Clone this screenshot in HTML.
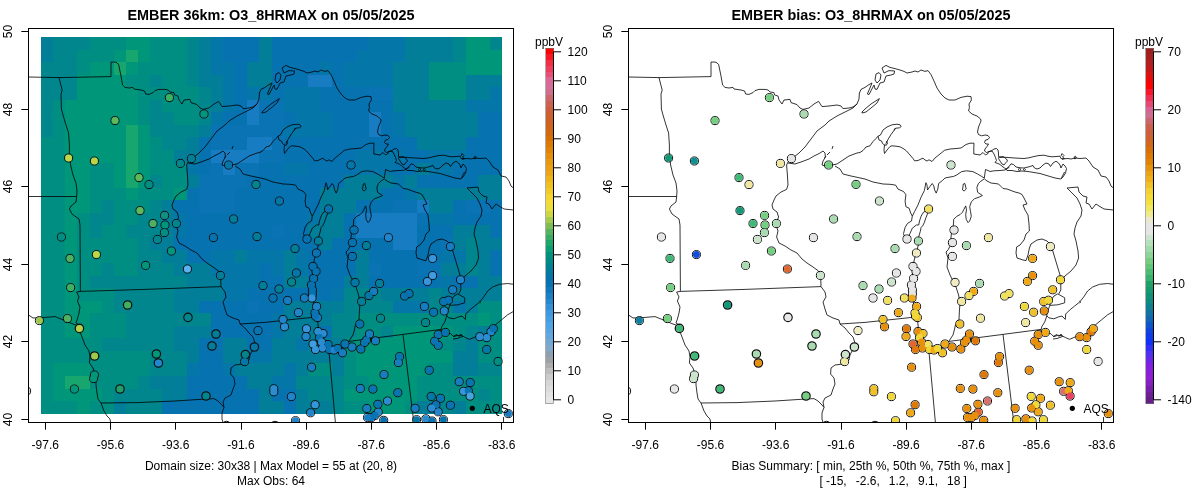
<!DOCTYPE html><html><head><meta charset="utf-8"><title>EMBER O3</title>
<style>html,body{margin:0;padding:0;background:#fff}svg{display:block}text{font-family:"Liberation Sans",sans-serif;fill:#000}</style></head><body>
<svg width="1200" height="502" viewBox="0 0 1200 502">
<rect width="1200" height="502" fill="#fff"/>
<g style="will-change:opacity">
<defs>
<clipPath id="cl"><rect x="28.5" y="28.5" width="485.0" height="394.0"/></clipPath>
<clipPath id="cr"><rect x="628.5" y="28.5" width="485.0" height="394.0"/></clipPath>
</defs>
<g shape-rendering="crispEdges">
<rect x="41.00" y="37.00" width="12.43" height="12.86" fill="#027e98"/>
<rect x="53.13" y="37.00" width="36.69" height="12.86" fill="#00868c"/>
<rect x="89.53" y="37.00" width="36.69" height="12.86" fill="#008e82"/>
<rect x="125.92" y="37.00" width="24.56" height="12.86" fill="#00967a"/>
<rect x="150.18" y="37.00" width="36.69" height="12.86" fill="#008e82"/>
<rect x="186.58" y="37.00" width="12.43" height="12.86" fill="#00868c"/>
<rect x="198.71" y="37.00" width="12.43" height="12.86" fill="#027e98"/>
<rect x="210.84" y="37.00" width="12.43" height="12.86" fill="#0476a8"/>
<rect x="222.97" y="37.00" width="36.69" height="12.86" fill="#0672b0"/>
<rect x="259.37" y="37.00" width="12.43" height="12.86" fill="#027e98"/>
<rect x="271.50" y="37.00" width="97.35" height="12.86" fill="#0672b0"/>
<rect x="368.55" y="37.00" width="36.69" height="12.86" fill="#0476a8"/>
<rect x="404.95" y="37.00" width="48.83" height="12.86" fill="#027e98"/>
<rect x="453.47" y="37.00" width="12.43" height="12.86" fill="#00868c"/>
<rect x="465.61" y="37.00" width="24.56" height="12.86" fill="#00967a"/>
<rect x="489.87" y="37.00" width="12.43" height="12.86" fill="#00868c"/>
<rect x="41.00" y="49.56" width="12.43" height="12.86" fill="#027e98"/>
<rect x="53.13" y="49.56" width="24.56" height="12.86" fill="#00868c"/>
<rect x="77.39" y="49.56" width="36.69" height="12.86" fill="#008e82"/>
<rect x="113.79" y="49.56" width="12.43" height="12.86" fill="#00967a"/>
<rect x="125.92" y="49.56" width="12.43" height="12.86" fill="#16a66e"/>
<rect x="138.05" y="49.56" width="12.43" height="12.86" fill="#00967a"/>
<rect x="150.18" y="49.56" width="36.69" height="12.86" fill="#008e82"/>
<rect x="186.58" y="49.56" width="12.43" height="12.86" fill="#00868c"/>
<rect x="198.71" y="49.56" width="12.43" height="12.86" fill="#027e98"/>
<rect x="210.84" y="49.56" width="12.43" height="12.86" fill="#0476a8"/>
<rect x="222.97" y="49.56" width="36.69" height="12.86" fill="#0672b0"/>
<rect x="259.37" y="49.56" width="12.43" height="12.86" fill="#027e98"/>
<rect x="271.50" y="49.56" width="85.22" height="12.86" fill="#0672b0"/>
<rect x="356.42" y="49.56" width="48.83" height="12.86" fill="#0476a8"/>
<rect x="404.95" y="49.56" width="48.83" height="12.86" fill="#027e98"/>
<rect x="453.47" y="49.56" width="12.43" height="12.86" fill="#00868c"/>
<rect x="465.61" y="49.56" width="36.69" height="12.86" fill="#00967a"/>
<rect x="41.00" y="62.11" width="36.69" height="12.86" fill="#00868c"/>
<rect x="77.39" y="62.11" width="12.43" height="12.86" fill="#008e82"/>
<rect x="89.53" y="62.11" width="24.56" height="12.86" fill="#00967a"/>
<rect x="113.79" y="62.11" width="12.43" height="12.86" fill="#16a66e"/>
<rect x="125.92" y="62.11" width="12.43" height="12.86" fill="#00967a"/>
<rect x="138.05" y="62.11" width="48.83" height="12.86" fill="#008e82"/>
<rect x="186.58" y="62.11" width="12.43" height="12.86" fill="#00868c"/>
<rect x="198.71" y="62.11" width="12.43" height="12.86" fill="#027e98"/>
<rect x="210.84" y="62.11" width="24.56" height="12.86" fill="#0476a8"/>
<rect x="235.11" y="62.11" width="12.43" height="12.86" fill="#0672b0"/>
<rect x="247.24" y="62.11" width="24.56" height="12.86" fill="#027e98"/>
<rect x="271.50" y="62.11" width="48.83" height="12.86" fill="#0672b0"/>
<rect x="320.03" y="62.11" width="12.43" height="12.86" fill="#0476a8"/>
<rect x="332.16" y="62.11" width="12.43" height="12.86" fill="#0672b0"/>
<rect x="344.29" y="62.11" width="48.83" height="12.86" fill="#0476a8"/>
<rect x="392.82" y="62.11" width="36.69" height="12.86" fill="#027e98"/>
<rect x="429.21" y="62.11" width="36.69" height="12.86" fill="#008e82"/>
<rect x="465.61" y="62.11" width="36.69" height="12.86" fill="#00967a"/>
<rect x="41.00" y="74.67" width="36.69" height="12.86" fill="#00868c"/>
<rect x="77.39" y="74.67" width="48.83" height="12.86" fill="#00967a"/>
<rect x="125.92" y="74.67" width="24.56" height="12.86" fill="#008e82"/>
<rect x="150.18" y="74.67" width="12.43" height="12.86" fill="#00868c"/>
<rect x="162.32" y="74.67" width="24.56" height="12.86" fill="#008e82"/>
<rect x="186.58" y="74.67" width="12.43" height="12.86" fill="#00868c"/>
<rect x="198.71" y="74.67" width="24.56" height="12.86" fill="#027e98"/>
<rect x="222.97" y="74.67" width="12.43" height="12.86" fill="#0476a8"/>
<rect x="235.11" y="74.67" width="12.43" height="12.86" fill="#0672b0"/>
<rect x="247.24" y="74.67" width="24.56" height="12.86" fill="#027e98"/>
<rect x="271.50" y="74.67" width="36.69" height="12.86" fill="#0672b0"/>
<rect x="307.89" y="74.67" width="24.56" height="12.86" fill="#187cc2"/>
<rect x="332.16" y="74.67" width="12.43" height="12.86" fill="#0672b0"/>
<rect x="344.29" y="74.67" width="48.83" height="12.86" fill="#0476a8"/>
<rect x="392.82" y="74.67" width="36.69" height="12.86" fill="#027e98"/>
<rect x="429.21" y="74.67" width="36.69" height="12.86" fill="#008e82"/>
<rect x="465.61" y="74.67" width="36.69" height="12.86" fill="#027e98"/>
<rect x="41.00" y="87.23" width="36.69" height="12.86" fill="#00868c"/>
<rect x="77.39" y="87.23" width="60.96" height="12.86" fill="#00967a"/>
<rect x="138.05" y="87.23" width="60.96" height="12.86" fill="#008e82"/>
<rect x="198.71" y="87.23" width="12.43" height="12.86" fill="#00868c"/>
<rect x="210.84" y="87.23" width="12.43" height="12.86" fill="#027e98"/>
<rect x="222.97" y="87.23" width="12.43" height="12.86" fill="#0476a8"/>
<rect x="235.11" y="87.23" width="12.43" height="12.86" fill="#0672b0"/>
<rect x="247.24" y="87.23" width="24.56" height="12.86" fill="#0476a8"/>
<rect x="271.50" y="87.23" width="12.43" height="12.86" fill="#0672b0"/>
<rect x="283.63" y="87.23" width="36.69" height="12.86" fill="#0476a8"/>
<rect x="320.03" y="87.23" width="48.83" height="12.86" fill="#0672b0"/>
<rect x="368.55" y="87.23" width="24.56" height="12.86" fill="#0a73b4"/>
<rect x="392.82" y="87.23" width="36.69" height="12.86" fill="#027e98"/>
<rect x="429.21" y="87.23" width="36.69" height="12.86" fill="#008e82"/>
<rect x="465.61" y="87.23" width="24.56" height="12.86" fill="#027e98"/>
<rect x="489.87" y="87.23" width="12.43" height="12.86" fill="#0476a8"/>
<rect x="41.00" y="99.78" width="12.43" height="12.86" fill="#00868c"/>
<rect x="53.13" y="99.78" width="12.43" height="12.86" fill="#008e82"/>
<rect x="65.26" y="99.78" width="73.09" height="12.86" fill="#00967a"/>
<rect x="138.05" y="99.78" width="12.43" height="12.86" fill="#008e82"/>
<rect x="150.18" y="99.78" width="12.43" height="12.86" fill="#00868c"/>
<rect x="162.32" y="99.78" width="36.69" height="12.86" fill="#008e82"/>
<rect x="198.71" y="99.78" width="12.43" height="12.86" fill="#00868c"/>
<rect x="210.84" y="99.78" width="12.43" height="12.86" fill="#027e98"/>
<rect x="222.97" y="99.78" width="12.43" height="12.86" fill="#0476a8"/>
<rect x="235.11" y="99.78" width="12.43" height="12.86" fill="#0672b0"/>
<rect x="247.24" y="99.78" width="12.43" height="12.86" fill="#187cc2"/>
<rect x="259.37" y="99.78" width="24.56" height="12.86" fill="#0a73b4"/>
<rect x="283.63" y="99.78" width="36.69" height="12.86" fill="#0476a8"/>
<rect x="320.03" y="99.78" width="73.09" height="12.86" fill="#0672b0"/>
<rect x="392.82" y="99.78" width="73.09" height="12.86" fill="#027e98"/>
<rect x="465.61" y="99.78" width="36.69" height="12.86" fill="#0476a8"/>
<rect x="41.00" y="112.34" width="12.43" height="12.86" fill="#00868c"/>
<rect x="53.13" y="112.34" width="12.43" height="12.86" fill="#008e82"/>
<rect x="65.26" y="112.34" width="73.09" height="12.86" fill="#00967a"/>
<rect x="138.05" y="112.34" width="12.43" height="12.86" fill="#008e82"/>
<rect x="150.18" y="112.34" width="24.56" height="12.86" fill="#00868c"/>
<rect x="174.45" y="112.34" width="24.56" height="12.86" fill="#008e82"/>
<rect x="198.71" y="112.34" width="12.43" height="12.86" fill="#00868c"/>
<rect x="210.84" y="112.34" width="12.43" height="12.86" fill="#0476a8"/>
<rect x="222.97" y="112.34" width="24.56" height="12.86" fill="#0672b0"/>
<rect x="247.24" y="112.34" width="12.43" height="12.86" fill="#187cc2"/>
<rect x="259.37" y="112.34" width="24.56" height="12.86" fill="#0a73b4"/>
<rect x="283.63" y="112.34" width="12.43" height="12.86" fill="#0672b0"/>
<rect x="295.76" y="112.34" width="36.69" height="12.86" fill="#0476a8"/>
<rect x="332.16" y="112.34" width="36.69" height="12.86" fill="#0672b0"/>
<rect x="368.55" y="112.34" width="12.43" height="12.86" fill="#187cc2"/>
<rect x="380.68" y="112.34" width="12.43" height="12.86" fill="#0672b0"/>
<rect x="392.82" y="112.34" width="12.43" height="12.86" fill="#0476a8"/>
<rect x="404.95" y="112.34" width="73.09" height="12.86" fill="#027e98"/>
<rect x="477.74" y="112.34" width="24.56" height="12.86" fill="#0672b0"/>
<rect x="41.00" y="124.90" width="12.43" height="12.86" fill="#00868c"/>
<rect x="53.13" y="124.90" width="12.43" height="12.86" fill="#008e82"/>
<rect x="65.26" y="124.90" width="60.96" height="12.86" fill="#00967a"/>
<rect x="125.92" y="124.90" width="12.43" height="12.86" fill="#16a66e"/>
<rect x="138.05" y="124.90" width="12.43" height="12.86" fill="#00967a"/>
<rect x="150.18" y="124.90" width="48.83" height="12.86" fill="#00868c"/>
<rect x="198.71" y="124.90" width="12.43" height="12.86" fill="#027e98"/>
<rect x="210.84" y="124.90" width="73.09" height="12.86" fill="#0a73b4"/>
<rect x="283.63" y="124.90" width="48.83" height="12.86" fill="#0476a8"/>
<rect x="332.16" y="124.90" width="36.69" height="12.86" fill="#0672b0"/>
<rect x="368.55" y="124.90" width="12.43" height="12.86" fill="#187cc2"/>
<rect x="380.68" y="124.90" width="12.43" height="12.86" fill="#0672b0"/>
<rect x="392.82" y="124.90" width="12.43" height="12.86" fill="#0476a8"/>
<rect x="404.95" y="124.90" width="73.09" height="12.86" fill="#027e98"/>
<rect x="477.74" y="124.90" width="24.56" height="12.86" fill="#0672b0"/>
<rect x="41.00" y="137.45" width="24.56" height="12.86" fill="#008e82"/>
<rect x="65.26" y="137.45" width="60.96" height="12.86" fill="#00967a"/>
<rect x="125.92" y="137.45" width="12.43" height="12.86" fill="#16a66e"/>
<rect x="138.05" y="137.45" width="12.43" height="12.86" fill="#00967a"/>
<rect x="150.18" y="137.45" width="12.43" height="12.86" fill="#008e82"/>
<rect x="162.32" y="137.45" width="24.56" height="12.86" fill="#00868c"/>
<rect x="186.58" y="137.45" width="12.43" height="12.86" fill="#027e98"/>
<rect x="198.71" y="137.45" width="12.43" height="12.86" fill="#0672b0"/>
<rect x="210.84" y="137.45" width="36.69" height="12.86" fill="#0a73b4"/>
<rect x="247.24" y="137.45" width="24.56" height="12.86" fill="#187cc2"/>
<rect x="271.50" y="137.45" width="12.43" height="12.86" fill="#0a73b4"/>
<rect x="283.63" y="137.45" width="133.75" height="12.86" fill="#0672b0"/>
<rect x="417.08" y="137.45" width="48.83" height="12.86" fill="#027e98"/>
<rect x="465.61" y="137.45" width="36.69" height="12.86" fill="#0672b0"/>
<rect x="41.00" y="150.01" width="24.56" height="12.86" fill="#008e82"/>
<rect x="65.26" y="150.01" width="60.96" height="12.86" fill="#00967a"/>
<rect x="125.92" y="150.01" width="12.43" height="12.86" fill="#16a66e"/>
<rect x="138.05" y="150.01" width="12.43" height="12.86" fill="#00967a"/>
<rect x="150.18" y="150.01" width="24.56" height="12.86" fill="#008e82"/>
<rect x="174.45" y="150.01" width="24.56" height="12.86" fill="#027e98"/>
<rect x="198.71" y="150.01" width="12.43" height="12.86" fill="#0672b0"/>
<rect x="210.84" y="150.01" width="48.83" height="12.86" fill="#187cc2"/>
<rect x="259.37" y="150.01" width="24.56" height="12.86" fill="#0a73b4"/>
<rect x="283.63" y="150.01" width="73.09" height="12.86" fill="#0672b0"/>
<rect x="356.42" y="150.01" width="48.83" height="12.86" fill="#0476a8"/>
<rect x="404.95" y="150.01" width="24.56" height="12.86" fill="#0672b0"/>
<rect x="429.21" y="150.01" width="36.69" height="12.86" fill="#0476a8"/>
<rect x="465.61" y="150.01" width="36.69" height="12.86" fill="#0672b0"/>
<rect x="41.00" y="162.57" width="24.56" height="12.86" fill="#008e82"/>
<rect x="65.26" y="162.57" width="24.56" height="12.86" fill="#00967a"/>
<rect x="89.53" y="162.57" width="24.56" height="12.86" fill="#008e82"/>
<rect x="113.79" y="162.57" width="12.43" height="12.86" fill="#00967a"/>
<rect x="125.92" y="162.57" width="12.43" height="12.86" fill="#16a66e"/>
<rect x="138.05" y="162.57" width="12.43" height="12.86" fill="#00967a"/>
<rect x="150.18" y="162.57" width="36.69" height="12.86" fill="#008e82"/>
<rect x="186.58" y="162.57" width="12.43" height="12.86" fill="#0476a8"/>
<rect x="198.71" y="162.57" width="12.43" height="12.86" fill="#0672b0"/>
<rect x="210.84" y="162.57" width="12.43" height="12.86" fill="#0a73b4"/>
<rect x="222.97" y="162.57" width="12.43" height="12.86" fill="#187cc2"/>
<rect x="235.11" y="162.57" width="24.56" height="12.86" fill="#0a73b4"/>
<rect x="259.37" y="162.57" width="24.56" height="12.86" fill="#0672b0"/>
<rect x="283.63" y="162.57" width="24.56" height="12.86" fill="#0476a8"/>
<rect x="307.89" y="162.57" width="48.83" height="12.86" fill="#0672b0"/>
<rect x="356.42" y="162.57" width="36.69" height="12.86" fill="#0476a8"/>
<rect x="392.82" y="162.57" width="24.56" height="12.86" fill="#0672b0"/>
<rect x="417.08" y="162.57" width="12.43" height="12.86" fill="#027e98"/>
<rect x="429.21" y="162.57" width="24.56" height="12.86" fill="#0476a8"/>
<rect x="453.47" y="162.57" width="48.83" height="12.86" fill="#0672b0"/>
<rect x="41.00" y="175.12" width="24.56" height="12.86" fill="#008e82"/>
<rect x="65.26" y="175.12" width="24.56" height="12.86" fill="#00967a"/>
<rect x="89.53" y="175.12" width="24.56" height="12.86" fill="#008e82"/>
<rect x="113.79" y="175.12" width="12.43" height="12.86" fill="#00967a"/>
<rect x="125.92" y="175.12" width="12.43" height="12.86" fill="#16a66e"/>
<rect x="138.05" y="175.12" width="12.43" height="12.86" fill="#00967a"/>
<rect x="150.18" y="175.12" width="12.43" height="12.86" fill="#00868c"/>
<rect x="162.32" y="175.12" width="24.56" height="12.86" fill="#008e82"/>
<rect x="186.58" y="175.12" width="12.43" height="12.86" fill="#027e98"/>
<rect x="198.71" y="175.12" width="48.83" height="12.86" fill="#0a73b4"/>
<rect x="247.24" y="175.12" width="97.35" height="12.86" fill="#0672b0"/>
<rect x="344.29" y="175.12" width="48.83" height="12.86" fill="#027e98"/>
<rect x="392.82" y="175.12" width="12.43" height="12.86" fill="#0476a8"/>
<rect x="404.95" y="175.12" width="12.43" height="12.86" fill="#027e98"/>
<rect x="417.08" y="175.12" width="60.96" height="12.86" fill="#0672b0"/>
<rect x="477.74" y="175.12" width="24.56" height="12.86" fill="#027e98"/>
<rect x="41.00" y="187.68" width="24.56" height="12.86" fill="#008e82"/>
<rect x="65.26" y="187.68" width="24.56" height="12.86" fill="#00967a"/>
<rect x="89.53" y="187.68" width="36.69" height="12.86" fill="#008e82"/>
<rect x="125.92" y="187.68" width="12.43" height="12.86" fill="#00967a"/>
<rect x="138.05" y="187.68" width="36.69" height="12.86" fill="#008e82"/>
<rect x="174.45" y="187.68" width="12.43" height="12.86" fill="#00967a"/>
<rect x="186.58" y="187.68" width="12.43" height="12.86" fill="#0672b0"/>
<rect x="198.71" y="187.68" width="36.69" height="12.86" fill="#0a73b4"/>
<rect x="235.11" y="187.68" width="85.22" height="12.86" fill="#0672b0"/>
<rect x="320.03" y="187.68" width="60.96" height="12.86" fill="#027e98"/>
<rect x="380.68" y="187.68" width="24.56" height="12.86" fill="#0672b0"/>
<rect x="404.95" y="187.68" width="12.43" height="12.86" fill="#0476a8"/>
<rect x="417.08" y="187.68" width="85.22" height="12.86" fill="#027e98"/>
<rect x="41.00" y="200.24" width="24.56" height="12.86" fill="#008e82"/>
<rect x="65.26" y="200.24" width="24.56" height="12.86" fill="#00967a"/>
<rect x="89.53" y="200.24" width="12.43" height="12.86" fill="#008e82"/>
<rect x="101.66" y="200.24" width="12.43" height="12.86" fill="#00868c"/>
<rect x="113.79" y="200.24" width="36.69" height="12.86" fill="#008e82"/>
<rect x="150.18" y="200.24" width="12.43" height="12.86" fill="#00868c"/>
<rect x="162.32" y="200.24" width="12.43" height="12.86" fill="#027e98"/>
<rect x="174.45" y="200.24" width="24.56" height="12.86" fill="#0672b0"/>
<rect x="198.71" y="200.24" width="36.69" height="12.86" fill="#0a73b4"/>
<rect x="235.11" y="200.24" width="85.22" height="12.86" fill="#0672b0"/>
<rect x="320.03" y="200.24" width="36.69" height="12.86" fill="#027e98"/>
<rect x="356.42" y="200.24" width="36.69" height="12.86" fill="#0672b0"/>
<rect x="392.82" y="200.24" width="24.56" height="12.86" fill="#0a73b4"/>
<rect x="417.08" y="200.24" width="12.43" height="12.86" fill="#187cc2"/>
<rect x="429.21" y="200.24" width="24.56" height="12.86" fill="#027e98"/>
<rect x="453.47" y="200.24" width="12.43" height="12.86" fill="#0672b0"/>
<rect x="465.61" y="200.24" width="24.56" height="12.86" fill="#0a73b4"/>
<rect x="489.87" y="200.24" width="12.43" height="12.86" fill="#0672b0"/>
<rect x="41.00" y="212.79" width="24.56" height="12.86" fill="#008e82"/>
<rect x="65.26" y="212.79" width="12.43" height="12.86" fill="#00967a"/>
<rect x="77.39" y="212.79" width="12.43" height="12.86" fill="#008e82"/>
<rect x="89.53" y="212.79" width="24.56" height="12.86" fill="#00868c"/>
<rect x="113.79" y="212.79" width="24.56" height="12.86" fill="#008e82"/>
<rect x="138.05" y="212.79" width="24.56" height="12.86" fill="#00868c"/>
<rect x="162.32" y="212.79" width="12.43" height="12.86" fill="#027e98"/>
<rect x="174.45" y="212.79" width="12.43" height="12.86" fill="#0476a8"/>
<rect x="186.58" y="212.79" width="121.62" height="12.86" fill="#0672b0"/>
<rect x="307.89" y="212.79" width="12.43" height="12.86" fill="#0476a8"/>
<rect x="320.03" y="212.79" width="24.56" height="12.86" fill="#027e98"/>
<rect x="344.29" y="212.79" width="12.43" height="12.86" fill="#0672b0"/>
<rect x="356.42" y="212.79" width="60.96" height="12.86" fill="#187cc2"/>
<rect x="417.08" y="212.79" width="12.43" height="12.86" fill="#0a73b4"/>
<rect x="429.21" y="212.79" width="24.56" height="12.86" fill="#0476a8"/>
<rect x="453.47" y="212.79" width="48.83" height="12.86" fill="#0672b0"/>
<rect x="41.00" y="225.35" width="24.56" height="12.86" fill="#008e82"/>
<rect x="65.26" y="225.35" width="12.43" height="12.86" fill="#00967a"/>
<rect x="77.39" y="225.35" width="12.43" height="12.86" fill="#008e82"/>
<rect x="89.53" y="225.35" width="12.43" height="12.86" fill="#00868c"/>
<rect x="101.66" y="225.35" width="24.56" height="12.86" fill="#008e82"/>
<rect x="125.92" y="225.35" width="36.69" height="12.86" fill="#00868c"/>
<rect x="162.32" y="225.35" width="12.43" height="12.86" fill="#027e98"/>
<rect x="174.45" y="225.35" width="12.43" height="12.86" fill="#0476a8"/>
<rect x="186.58" y="225.35" width="85.22" height="12.86" fill="#0672b0"/>
<rect x="271.50" y="225.35" width="12.43" height="12.86" fill="#0a73b4"/>
<rect x="283.63" y="225.35" width="24.56" height="12.86" fill="#0672b0"/>
<rect x="307.89" y="225.35" width="36.69" height="12.86" fill="#027e98"/>
<rect x="344.29" y="225.35" width="12.43" height="12.86" fill="#0672b0"/>
<rect x="356.42" y="225.35" width="60.96" height="12.86" fill="#187cc2"/>
<rect x="417.08" y="225.35" width="36.69" height="12.86" fill="#0672b0"/>
<rect x="453.47" y="225.35" width="36.69" height="12.86" fill="#027e98"/>
<rect x="489.87" y="225.35" width="12.43" height="12.86" fill="#0672b0"/>
<rect x="41.00" y="237.91" width="24.56" height="12.86" fill="#008e82"/>
<rect x="65.26" y="237.91" width="12.43" height="12.86" fill="#00967a"/>
<rect x="77.39" y="237.91" width="60.96" height="12.86" fill="#008e82"/>
<rect x="138.05" y="237.91" width="12.43" height="12.86" fill="#00868c"/>
<rect x="150.18" y="237.91" width="24.56" height="12.86" fill="#027e98"/>
<rect x="174.45" y="237.91" width="145.88" height="12.86" fill="#0672b0"/>
<rect x="320.03" y="237.91" width="12.43" height="12.86" fill="#027e98"/>
<rect x="332.16" y="237.91" width="60.96" height="12.86" fill="#0672b0"/>
<rect x="392.82" y="237.91" width="24.56" height="12.86" fill="#187cc2"/>
<rect x="417.08" y="237.91" width="24.56" height="12.86" fill="#0672b0"/>
<rect x="441.34" y="237.91" width="12.43" height="12.86" fill="#0a73b4"/>
<rect x="453.47" y="237.91" width="12.43" height="12.86" fill="#027e98"/>
<rect x="465.61" y="237.91" width="12.43" height="12.86" fill="#00868c"/>
<rect x="477.74" y="237.91" width="24.56" height="12.86" fill="#027e98"/>
<rect x="41.00" y="250.46" width="24.56" height="12.86" fill="#008e82"/>
<rect x="65.26" y="250.46" width="12.43" height="12.86" fill="#00967a"/>
<rect x="77.39" y="250.46" width="60.96" height="12.86" fill="#008e82"/>
<rect x="138.05" y="250.46" width="24.56" height="12.86" fill="#00868c"/>
<rect x="162.32" y="250.46" width="24.56" height="12.86" fill="#027e98"/>
<rect x="186.58" y="250.46" width="24.56" height="12.86" fill="#0672b0"/>
<rect x="210.84" y="250.46" width="24.56" height="12.86" fill="#0476a8"/>
<rect x="235.11" y="250.46" width="12.43" height="12.86" fill="#027e98"/>
<rect x="247.24" y="250.46" width="36.69" height="12.86" fill="#0476a8"/>
<rect x="283.63" y="250.46" width="12.43" height="12.86" fill="#027e98"/>
<rect x="295.76" y="250.46" width="12.43" height="12.86" fill="#0476a8"/>
<rect x="307.89" y="250.46" width="48.83" height="12.86" fill="#0672b0"/>
<rect x="356.42" y="250.46" width="12.43" height="12.86" fill="#027e98"/>
<rect x="368.55" y="250.46" width="73.09" height="12.86" fill="#0672b0"/>
<rect x="441.34" y="250.46" width="24.56" height="12.86" fill="#0476a8"/>
<rect x="465.61" y="250.46" width="12.43" height="12.86" fill="#00868c"/>
<rect x="477.74" y="250.46" width="12.43" height="12.86" fill="#027e98"/>
<rect x="489.87" y="250.46" width="12.43" height="12.86" fill="#0672b0"/>
<rect x="41.00" y="263.02" width="24.56" height="12.86" fill="#008e82"/>
<rect x="65.26" y="263.02" width="12.43" height="12.86" fill="#00967a"/>
<rect x="77.39" y="263.02" width="24.56" height="12.86" fill="#008e82"/>
<rect x="101.66" y="263.02" width="12.43" height="12.86" fill="#00868c"/>
<rect x="113.79" y="263.02" width="24.56" height="12.86" fill="#008e82"/>
<rect x="138.05" y="263.02" width="36.69" height="12.86" fill="#00868c"/>
<rect x="174.45" y="263.02" width="36.69" height="12.86" fill="#027e98"/>
<rect x="210.84" y="263.02" width="48.83" height="12.86" fill="#0476a8"/>
<rect x="259.37" y="263.02" width="12.43" height="12.86" fill="#0672b0"/>
<rect x="271.50" y="263.02" width="12.43" height="12.86" fill="#0476a8"/>
<rect x="283.63" y="263.02" width="12.43" height="12.86" fill="#027e98"/>
<rect x="295.76" y="263.02" width="12.43" height="12.86" fill="#0476a8"/>
<rect x="307.89" y="263.02" width="48.83" height="12.86" fill="#0672b0"/>
<rect x="356.42" y="263.02" width="12.43" height="12.86" fill="#027e98"/>
<rect x="368.55" y="263.02" width="12.43" height="12.86" fill="#0a73b4"/>
<rect x="380.68" y="263.02" width="36.69" height="12.86" fill="#0672b0"/>
<rect x="417.08" y="263.02" width="24.56" height="12.86" fill="#0a73b4"/>
<rect x="441.34" y="263.02" width="24.56" height="12.86" fill="#027e98"/>
<rect x="465.61" y="263.02" width="12.43" height="12.86" fill="#00868c"/>
<rect x="477.74" y="263.02" width="12.43" height="12.86" fill="#027e98"/>
<rect x="489.87" y="263.02" width="12.43" height="12.86" fill="#0672b0"/>
<rect x="41.00" y="275.58" width="24.56" height="12.86" fill="#008e82"/>
<rect x="65.26" y="275.58" width="12.43" height="12.86" fill="#00967a"/>
<rect x="77.39" y="275.58" width="12.43" height="12.86" fill="#008e82"/>
<rect x="89.53" y="275.58" width="97.35" height="12.86" fill="#00868c"/>
<rect x="186.58" y="275.58" width="36.69" height="12.86" fill="#027e98"/>
<rect x="222.97" y="275.58" width="36.69" height="12.86" fill="#0476a8"/>
<rect x="259.37" y="275.58" width="24.56" height="12.86" fill="#0672b0"/>
<rect x="283.63" y="275.58" width="24.56" height="12.86" fill="#027e98"/>
<rect x="307.89" y="275.58" width="36.69" height="12.86" fill="#0672b0"/>
<rect x="344.29" y="275.58" width="24.56" height="12.86" fill="#027e98"/>
<rect x="368.55" y="275.58" width="73.09" height="12.86" fill="#0672b0"/>
<rect x="441.34" y="275.58" width="12.43" height="12.86" fill="#0476a8"/>
<rect x="453.47" y="275.58" width="24.56" height="12.86" fill="#0672b0"/>
<rect x="477.74" y="275.58" width="24.56" height="12.86" fill="#027e98"/>
<rect x="41.00" y="288.13" width="24.56" height="12.86" fill="#008e82"/>
<rect x="65.26" y="288.13" width="12.43" height="12.86" fill="#00967a"/>
<rect x="77.39" y="288.13" width="36.69" height="12.86" fill="#008e82"/>
<rect x="113.79" y="288.13" width="60.96" height="12.86" fill="#00868c"/>
<rect x="174.45" y="288.13" width="48.83" height="12.86" fill="#027e98"/>
<rect x="222.97" y="288.13" width="24.56" height="12.86" fill="#0476a8"/>
<rect x="247.24" y="288.13" width="85.22" height="12.86" fill="#0672b0"/>
<rect x="332.16" y="288.13" width="12.43" height="12.86" fill="#0476a8"/>
<rect x="344.29" y="288.13" width="36.69" height="12.86" fill="#00868c"/>
<rect x="380.68" y="288.13" width="48.83" height="12.86" fill="#027e98"/>
<rect x="429.21" y="288.13" width="12.43" height="12.86" fill="#00868c"/>
<rect x="441.34" y="288.13" width="60.96" height="12.86" fill="#027e98"/>
<rect x="41.00" y="300.69" width="24.56" height="12.86" fill="#008e82"/>
<rect x="65.26" y="300.69" width="36.69" height="12.86" fill="#00967a"/>
<rect x="101.66" y="300.69" width="12.43" height="12.86" fill="#008e82"/>
<rect x="113.79" y="300.69" width="60.96" height="12.86" fill="#00868c"/>
<rect x="174.45" y="300.69" width="24.56" height="12.86" fill="#027e98"/>
<rect x="198.71" y="300.69" width="48.83" height="12.86" fill="#0672b0"/>
<rect x="247.24" y="300.69" width="12.43" height="12.86" fill="#0a73b4"/>
<rect x="259.37" y="300.69" width="24.56" height="12.86" fill="#0672b0"/>
<rect x="283.63" y="300.69" width="60.96" height="12.86" fill="#027e98"/>
<rect x="344.29" y="300.69" width="48.83" height="12.86" fill="#00868c"/>
<rect x="392.82" y="300.69" width="36.69" height="12.86" fill="#0476a8"/>
<rect x="429.21" y="300.69" width="24.56" height="12.86" fill="#00868c"/>
<rect x="453.47" y="300.69" width="12.43" height="12.86" fill="#0476a8"/>
<rect x="465.61" y="300.69" width="12.43" height="12.86" fill="#027e98"/>
<rect x="477.74" y="300.69" width="24.56" height="12.86" fill="#008e82"/>
<rect x="41.00" y="313.25" width="24.56" height="12.86" fill="#008e82"/>
<rect x="65.26" y="313.25" width="24.56" height="12.86" fill="#00967a"/>
<rect x="89.53" y="313.25" width="36.69" height="12.86" fill="#008e82"/>
<rect x="125.92" y="313.25" width="85.22" height="12.86" fill="#00868c"/>
<rect x="210.84" y="313.25" width="60.96" height="12.86" fill="#0672b0"/>
<rect x="271.50" y="313.25" width="12.43" height="12.86" fill="#0476a8"/>
<rect x="283.63" y="313.25" width="48.83" height="12.86" fill="#027e98"/>
<rect x="332.16" y="313.25" width="24.56" height="12.86" fill="#00868c"/>
<rect x="356.42" y="313.25" width="121.62" height="12.86" fill="#008e82"/>
<rect x="477.74" y="313.25" width="12.43" height="12.86" fill="#00967a"/>
<rect x="489.87" y="313.25" width="12.43" height="12.86" fill="#008e82"/>
<rect x="41.00" y="325.80" width="24.56" height="12.86" fill="#008e82"/>
<rect x="65.26" y="325.80" width="24.56" height="12.86" fill="#00967a"/>
<rect x="89.53" y="325.80" width="36.69" height="12.86" fill="#008e82"/>
<rect x="125.92" y="325.80" width="48.83" height="12.86" fill="#00868c"/>
<rect x="174.45" y="325.80" width="36.69" height="12.86" fill="#027e98"/>
<rect x="210.84" y="325.80" width="60.96" height="12.86" fill="#0672b0"/>
<rect x="271.50" y="325.80" width="12.43" height="12.86" fill="#0476a8"/>
<rect x="283.63" y="325.80" width="36.69" height="12.86" fill="#027e98"/>
<rect x="320.03" y="325.80" width="12.43" height="12.86" fill="#0672b0"/>
<rect x="332.16" y="325.80" width="24.56" height="12.86" fill="#00868c"/>
<rect x="356.42" y="325.80" width="24.56" height="12.86" fill="#008e82"/>
<rect x="380.68" y="325.80" width="12.43" height="12.86" fill="#00868c"/>
<rect x="392.82" y="325.80" width="60.96" height="12.86" fill="#00967a"/>
<rect x="453.47" y="325.80" width="12.43" height="12.86" fill="#008e82"/>
<rect x="465.61" y="325.80" width="12.43" height="12.86" fill="#00868c"/>
<rect x="477.74" y="325.80" width="12.43" height="12.86" fill="#027e98"/>
<rect x="489.87" y="325.80" width="12.43" height="12.86" fill="#008e82"/>
<rect x="41.00" y="338.36" width="60.96" height="12.86" fill="#008e82"/>
<rect x="101.66" y="338.36" width="73.09" height="12.86" fill="#00868c"/>
<rect x="174.45" y="338.36" width="24.56" height="12.86" fill="#027e98"/>
<rect x="198.71" y="338.36" width="24.56" height="12.86" fill="#0672b0"/>
<rect x="222.97" y="338.36" width="24.56" height="12.86" fill="#027e98"/>
<rect x="247.24" y="338.36" width="24.56" height="12.86" fill="#0672b0"/>
<rect x="271.50" y="338.36" width="24.56" height="12.86" fill="#027e98"/>
<rect x="295.76" y="338.36" width="12.43" height="12.86" fill="#0476a8"/>
<rect x="307.89" y="338.36" width="36.69" height="12.86" fill="#027e98"/>
<rect x="344.29" y="338.36" width="12.43" height="12.86" fill="#008e82"/>
<rect x="356.42" y="338.36" width="85.22" height="12.86" fill="#00967a"/>
<rect x="441.34" y="338.36" width="12.43" height="12.86" fill="#008e82"/>
<rect x="453.47" y="338.36" width="12.43" height="12.86" fill="#00868c"/>
<rect x="465.61" y="338.36" width="12.43" height="12.86" fill="#027e98"/>
<rect x="477.74" y="338.36" width="24.56" height="12.86" fill="#008e82"/>
<rect x="41.00" y="350.92" width="109.48" height="12.86" fill="#008e82"/>
<rect x="150.18" y="350.92" width="36.69" height="12.86" fill="#00868c"/>
<rect x="186.58" y="350.92" width="12.43" height="12.86" fill="#027e98"/>
<rect x="198.71" y="350.92" width="24.56" height="12.86" fill="#0672b0"/>
<rect x="222.97" y="350.92" width="24.56" height="12.86" fill="#027e98"/>
<rect x="247.24" y="350.92" width="24.56" height="12.86" fill="#0476a8"/>
<rect x="271.50" y="350.92" width="73.09" height="12.86" fill="#027e98"/>
<rect x="344.29" y="350.92" width="12.43" height="12.86" fill="#008e82"/>
<rect x="356.42" y="350.92" width="97.35" height="12.86" fill="#00967a"/>
<rect x="453.47" y="350.92" width="24.56" height="12.86" fill="#027e98"/>
<rect x="477.74" y="350.92" width="24.56" height="12.86" fill="#008e82"/>
<rect x="41.00" y="363.47" width="12.43" height="12.86" fill="#008e82"/>
<rect x="53.13" y="363.47" width="36.69" height="12.86" fill="#00967a"/>
<rect x="89.53" y="363.47" width="60.96" height="12.86" fill="#008e82"/>
<rect x="150.18" y="363.47" width="36.69" height="12.86" fill="#00868c"/>
<rect x="186.58" y="363.47" width="12.43" height="12.86" fill="#0476a8"/>
<rect x="198.71" y="363.47" width="24.56" height="12.86" fill="#0672b0"/>
<rect x="222.97" y="363.47" width="12.43" height="12.86" fill="#0476a8"/>
<rect x="235.11" y="363.47" width="48.83" height="12.86" fill="#027e98"/>
<rect x="283.63" y="363.47" width="12.43" height="12.86" fill="#0476a8"/>
<rect x="295.76" y="363.47" width="12.43" height="12.86" fill="#027e98"/>
<rect x="307.89" y="363.47" width="24.56" height="12.86" fill="#008e82"/>
<rect x="332.16" y="363.47" width="12.43" height="12.86" fill="#027e98"/>
<rect x="344.29" y="363.47" width="12.43" height="12.86" fill="#008e82"/>
<rect x="356.42" y="363.47" width="73.09" height="12.86" fill="#00967a"/>
<rect x="429.21" y="363.47" width="24.56" height="12.86" fill="#008e82"/>
<rect x="453.47" y="363.47" width="24.56" height="12.86" fill="#027e98"/>
<rect x="477.74" y="363.47" width="24.56" height="12.86" fill="#00868c"/>
<rect x="41.00" y="376.03" width="12.43" height="12.86" fill="#008e82"/>
<rect x="53.13" y="376.03" width="12.43" height="12.86" fill="#00967a"/>
<rect x="65.26" y="376.03" width="24.56" height="12.86" fill="#16a66e"/>
<rect x="89.53" y="376.03" width="48.83" height="12.86" fill="#008e82"/>
<rect x="138.05" y="376.03" width="12.43" height="12.86" fill="#00868c"/>
<rect x="150.18" y="376.03" width="36.69" height="12.86" fill="#027e98"/>
<rect x="186.58" y="376.03" width="60.96" height="12.86" fill="#0672b0"/>
<rect x="247.24" y="376.03" width="24.56" height="12.86" fill="#027e98"/>
<rect x="271.50" y="376.03" width="24.56" height="12.86" fill="#0476a8"/>
<rect x="295.76" y="376.03" width="48.83" height="12.86" fill="#00868c"/>
<rect x="344.29" y="376.03" width="24.56" height="12.86" fill="#008e82"/>
<rect x="368.55" y="376.03" width="48.83" height="12.86" fill="#00967a"/>
<rect x="417.08" y="376.03" width="85.22" height="12.86" fill="#008e82"/>
<rect x="41.00" y="388.59" width="12.43" height="12.86" fill="#008e82"/>
<rect x="53.13" y="388.59" width="48.83" height="12.86" fill="#00967a"/>
<rect x="101.66" y="388.59" width="12.43" height="12.86" fill="#008e82"/>
<rect x="113.79" y="388.59" width="48.83" height="12.86" fill="#00868c"/>
<rect x="162.32" y="388.59" width="24.56" height="12.86" fill="#027e98"/>
<rect x="186.58" y="388.59" width="73.09" height="12.86" fill="#0672b0"/>
<rect x="259.37" y="388.59" width="12.43" height="12.86" fill="#027e98"/>
<rect x="271.50" y="388.59" width="24.56" height="12.86" fill="#0672b0"/>
<rect x="295.76" y="388.59" width="12.43" height="12.86" fill="#027e98"/>
<rect x="307.89" y="388.59" width="36.69" height="12.86" fill="#00868c"/>
<rect x="344.29" y="388.59" width="73.09" height="12.86" fill="#00967a"/>
<rect x="417.08" y="388.59" width="60.96" height="12.86" fill="#008e82"/>
<rect x="477.74" y="388.59" width="12.43" height="12.86" fill="#00868c"/>
<rect x="489.87" y="388.59" width="12.43" height="12.86" fill="#008e82"/>
<rect x="41.00" y="401.14" width="36.69" height="12.86" fill="#008e82"/>
<rect x="77.39" y="401.14" width="12.43" height="12.86" fill="#00967a"/>
<rect x="89.53" y="401.14" width="24.56" height="12.86" fill="#008e82"/>
<rect x="113.79" y="401.14" width="12.43" height="12.86" fill="#027e98"/>
<rect x="125.92" y="401.14" width="36.69" height="12.86" fill="#00868c"/>
<rect x="162.32" y="401.14" width="97.35" height="12.86" fill="#0672b0"/>
<rect x="259.37" y="401.14" width="24.56" height="12.86" fill="#027e98"/>
<rect x="283.63" y="401.14" width="12.43" height="12.86" fill="#0672b0"/>
<rect x="295.76" y="401.14" width="36.69" height="12.86" fill="#027e98"/>
<rect x="332.16" y="401.14" width="12.43" height="12.86" fill="#00868c"/>
<rect x="344.29" y="401.14" width="24.56" height="12.86" fill="#008e82"/>
<rect x="368.55" y="401.14" width="36.69" height="12.86" fill="#00967a"/>
<rect x="404.95" y="401.14" width="12.43" height="12.86" fill="#008e82"/>
<rect x="417.08" y="401.14" width="24.56" height="12.86" fill="#027e98"/>
<rect x="441.34" y="401.14" width="12.43" height="12.86" fill="#00868c"/>
<rect x="453.47" y="401.14" width="12.43" height="12.86" fill="#027e98"/>
<rect x="465.61" y="401.14" width="36.69" height="12.86" fill="#008e82"/>
</g>
<g clip-path="url(#cl)">
<path transform="translate(0,0)" fill="none" stroke="#000" stroke-width="0.8" stroke-linejoin="round" d="M28.6,77.0 L59.0,77.6 L111.0,76.6 L111.0,62.0 L116.0,62.2 L118.6,64.4 L121.0,76.0 L122.6,85.0 L125.0,87.4 L129.0,88.0 L133.0,87.4 L134.0,89.0 L141.0,90.0 L144.6,91.0 L145.6,94.0 L149.0,94.4 L153.0,92.6 L155.0,90.6 L159.0,89.4 L165.0,89.4 L168.0,90.0 L170.0,92.0 L174.0,92.6 L174.6,95.0 L178.0,96.0 L179.0,100.0 L182.0,104.0 L184.0,100.0 L190.0,99.4 L191.0,102.6 L197.0,104.6 L200.0,108.0 L203.0,109.4 L209.0,108.0 L214.0,104.0 L218.6,101.4 L222.0,106.6 L229.0,106.0 L237.0,105.0 L241.0,106.0 L243.0,108.6 L249.0,108.0 L253.0,107.0 L257.0,104.0 L259.0,99.0 L259.4,93.0 L261.0,89.4 L265.0,87.4 L269.0,84.6 L272.0,83.0 L267.4,94.0 L269.0,94.6 L274.0,85.0 L275.0,89.0 L277.0,89.4 L280.0,83.0 L284.0,82.0 L285.0,79.0 L286.0,76.0 L291.0,75.0 L294.0,74.0 L294.6,71.0 L289.0,70.6 L284.0,73.0 L282.0,68.0 L286.0,65.4 L290.0,67.4 L295.0,68.6 L300.0,70.0 L304.0,71.4 L307.0,73.0 L312.0,72.0 L315.0,71.0 L318.0,72.0 L321.0,70.0 L325.0,71.4 L328.0,70.6 L331.0,74.6 L334.0,81.0 L337.0,88.0 L341.0,94.0 L345.0,98.0 L349.0,100.0 L355.0,100.0 L361.0,97.4 L367.0,96.2 L371.0,96.6 L371.4,100.0 L369.0,104.0 L369.4,107.4 L368.6,111.0 L372.0,114.0 L377.0,116.0 L380.6,119.0 L381.0,121.0 L380.0,123.5 L378.5,127.0 L377.5,132.0 L378.5,134.5 L381.5,135.8 L385.0,135.0 L388.0,135.5 L389.5,137.5 L388.0,139.5 L385.5,140.0 L384.5,142.5 L386.0,144.0 L388.5,144.0 L387.0,146.5 L385.0,149.0 L384.5,151.0 L386.5,152.5 L389.0,151.5 L392.0,150.5 L394.0,149.0 L396.5,148.5 L398.0,150.0 L398.5,153.0 L398.5,156.5 L400.0,157.5 L404.0,157.2 L408.0,157.5 L412.0,157.8 L418.0,158.2 L424.0,158.5 L429.0,157.8 L434.0,156.5 L439.0,155.5 L444.0,155.2 L448.0,156.2 L452.0,156.8 L456.0,156.5 L460.0,156.2 L461.0,158.5 L464.0,158.8 L468.0,158.5 L471.0,159.0 L475.0,158.0 L480.0,158.5 L486.0,158.0 L489.0,161.0 L493.0,167.0 L498.0,170.0 L501.0,176.0 L506.0,177.0 L509.0,181.0 L511.0,186.0 L513.5,188.0 M276.0,74.0 L279.0,72.6 L281.0,75.0 L280.0,80.0 L277.0,83.0 L275.0,80.0Z M262.0,112.0 L265.0,109.0 L271.0,104.0 L279.4,98.6 L277.0,103.0 L271.0,108.0 L266.0,112.0 L262.0,113.0Z M257.0,104.0 L253.0,108.0 L245.0,112.0 L237.0,116.0 L229.0,121.0 L225.0,125.0 L217.0,131.0 L211.0,139.0 L205.0,147.0 L199.0,153.0 L194.0,157.0 L191.4,158.6 L188.0,162.0 M59.0,77.6 L60.6,84.0 L62.2,90.0 L61.0,94.0 L61.4,109.0 L63.0,115.0 L66.0,125.0 L68.6,133.0 L69.4,145.0 L69.4,155.0 L70.6,165.0 L73.0,175.0 L76.0,183.0 L77.0,191.0 L76.6,197.0 L76.0,202.0 L71.0,206.0 L69.4,209.0 L72.0,214.0 L79.0,219.0 L80.0,225.0 L80.4,291.4 M28.6,196.5 L76.6,196.5 M80.4,291.4 L145.0,289.4 L221.0,286.6 M80.4,291.4 L76.6,292.0 L79.0,297.0 L77.4,301.0 L80.0,307.0 L79.0,313.0 L77.4,319.0 L76.0,323.0 L79.0,325.0 L79.0,329.0 L82.0,337.0 L85.0,345.0 L89.0,351.0 L90.0,357.0 L89.4,363.0 L93.0,368.0 L96.0,377.0 L96.0,385.0 L97.0,393.0 L98.0,399.0 L101.0,403.0 L104.0,411.0 L107.0,416.0 L110.0,419.0 L110.6,422.5 M28.6,315.0 L33.0,318.0 L45.0,317.4 L55.0,316.6 L61.0,319.0 L68.0,322.0 L73.0,324.0 L76.0,325.0 M101.0,403.0 L137.0,402.6 L175.0,401.0 L206.0,399.0 L214.0,398.6 L218.0,401.0 L222.0,405.0 L224.0,407.4 M188.0,162.0 L186.6,165.0 L187.4,175.0 L188.0,185.0 L186.6,189.4 L181.0,192.0 L176.0,196.0 L174.0,200.0 L172.0,205.0 L173.0,209.0 L177.0,212.0 L178.6,217.0 L177.0,221.0 L176.0,225.0 L178.0,231.0 L176.6,237.0 L179.0,243.0 L185.0,246.0 L191.0,250.0 L197.0,253.0 L202.0,259.0 L207.0,263.0 L213.0,267.0 L218.0,270.6 L220.6,275.0 L221.0,286.6 L225.0,292.0 L226.0,297.0 L223.0,302.0 L225.0,309.0 L227.0,315.0 L233.0,318.0 L239.0,320.0 L240.0,324.0 L245.0,328.0 L249.0,333.0 L253.0,337.0 L255.0,343.0 L253.0,349.0 L250.0,355.0 L249.0,360.0 L243.0,364.0 L235.0,365.0 L231.0,368.0 L230.6,374.0 L234.0,378.0 L235.0,384.0 L233.0,389.0 L231.0,395.0 L225.0,398.0 L223.0,402.0 L224.0,407.4 L222.0,413.0 L222.0,419.0 L223.0,422.5 M240.0,324.0 L265.0,322.4 L312.0,317.4 M188.0,163.0 L195.0,164.0 L201.0,162.0 L209.0,159.0 L214.0,156.0 L217.0,154.6 L220.0,153.0 L223.0,151.0 L225.0,153.0 L225.4,157.0 L223.0,161.0 L222.0,165.0 L225.0,166.0 L229.0,164.0 L232.0,165.0 L237.0,164.0 L243.0,160.0 L249.0,156.0 L257.0,153.0 L260.0,152.5 L263.0,150.5 L266.0,147.0 L270.0,145.8 L273.0,141.5 L276.0,138.5 L278.0,136.2 L280.5,135.0 L283.0,130.0 L287.0,127.0 L292.0,124.8 L297.0,124.2 L300.0,124.8 L301.2,126.5 L299.5,127.8 L296.0,128.2 L294.5,128.8 L294.0,130.5 L291.0,134.5 L288.0,139.5 L286.0,143.5 L284.5,145.0 L284.0,150.0 L284.5,153.5 L287.0,150.0 L290.0,146.5 L292.0,145.8 L296.0,146.2 L300.0,146.8 L304.0,149.0 L306.5,151.0 L310.0,155.0 L313.0,158.5 L314.5,160.8 L318.0,160.5 L321.0,159.0 L323.0,158.2 L325.0,160.0 L327.0,161.0 L329.0,159.8 L332.0,161.5 L335.0,158.0 L340.0,154.0 L344.5,150.3 L350.0,149.0 L356.0,148.5 L361.0,148.0 L366.0,144.5 L370.0,143.2 L374.0,143.2 L373.8,148.0 L373.8,154.0 L377.0,154.5 L380.0,155.0 L383.0,152.5 L385.5,155.0 L387.5,154.0 L388.5,151.8 L392.0,151.0 L394.0,154.0 L395.5,157.5 L396.5,160.5 L395.0,162.5 L398.0,163.5 L400.0,164.5 L403.0,167.0 L406.0,169.0 M278.0,136.2 L279.0,140.0 L281.5,141.0 L282.5,143.5 L284.5,145.0 M224.5,158.0 L226.0,156.0 M227.0,155.0 L230.0,152.0 M232.0,149.0 L233.0,146.0 M399.0,157.0 L403.0,156.5 L406.5,159.0 L407.5,161.0 L405.5,163.0 L404.0,165.0 L402.0,164.0 L400.0,161.0 L398.5,158.5Z M406.0,169.0 L409.0,166.5 L411.0,163.8 L413.5,164.5 L416.0,167.0 L420.0,167.8 L424.0,168.0 L429.0,166.8 L433.0,165.5 L434.5,168.0 L437.0,169.0 L440.0,168.0 L443.0,165.0 L446.0,163.0 L449.0,164.0 L450.5,166.5 L453.0,163.0 L456.0,161.2 L458.5,163.0 L460.0,165.0 L461.0,168.0 L463.0,164.0 L465.0,166.0 L466.5,168.5 L465.5,173.0 L463.0,177.0 L461.0,179.0 L458.0,178.5 L455.0,178.0 L450.0,176.5 L445.0,175.0 L440.0,173.5 L434.0,172.5 L428.0,171.5 L422.0,171.0 L417.0,171.5 L412.0,170.5 L407.0,170.5Z M461.5,178.0 L464.5,172.0 M235.0,166.0 L240.0,169.0 L243.0,174.0 L251.0,176.0 L265.0,179.0 L273.0,182.0 L283.0,184.0 L290.0,184.3 L295.6,185.1 L298.0,189.1 L303.5,191.5 L305.9,194.7 L305.1,201.1 L305.9,206.7 L309.1,208.2 L310.7,213.0 L312.3,216.2 M325.9,182.7 L324.3,190.7 L321.1,197.1 L317.9,205.1 L314.7,211.4 L312.3,216.2 L311.5,221.0 L307.5,223.4 L305.1,227.4 L303.5,233.7 L304.3,236.1 M307.2,238.8 L309.9,233.7 L312.3,228.2 L316.3,225.0 L318.7,225.0 L319.5,221.0 L321.1,216.2 L323.5,212.2 L326.7,210.6 M329.0,209.8 L327.5,213.8 L325.9,217.8 L324.3,222.6 L322.7,225.8 L321.1,227.4 L320.3,231.4 L318.7,236.9 L318.4,240.1 L318.4,244.9 L317.1,249.7 L316.0,253.0 L314.0,261.0 L313.0,271.0 L312.0,281.0 L312.0,291.0 L313.0,301.0 L315.0,309.0 L317.4,317.0 L318.0,325.0 L319.0,333.0 L322.0,341.0 L327.0,347.0 L329.0,351.0 L337.0,350.0 L345.0,346.0 L349.0,341.0 L353.0,335.0 L354.6,329.0 L355.4,325.0 L358.6,325.0 L359.0,319.0 L359.4,311.0 L360.0,303.0 L358.6,295.0 L356.0,287.0 L353.0,281.0 L350.0,275.0 L347.0,267.0 L348.0,258.0 L346.0,252.0 L348.2,249.7 L349.8,246.5 L350.9,238.5 L351.4,233.7 L353.4,225.0 L353.7,219.4 L356.9,216.2 L360.1,214.6 L362.5,212.2 L364.1,209.0 L365.7,205.9 L366.5,209.8 L365.7,214.6 L366.2,219.4 L368.1,222.6 L369.7,221.0 L371.3,216.2 L370.5,211.4 L369.7,206.7 L371.3,201.9 L374.5,198.7 L379.2,197.1 L382.4,195.5 L377.6,192.3 L376.9,187.5 L378.4,183.5 L380.8,181.2 L384.3,178.8 M325.9,182.7 L327.0,185.1 L327.5,189.9 L329.8,186.7 L332.2,183.5 L333.8,185.9 L334.6,189.9 L336.2,193.1 L337.8,189.1 L338.6,183.5 L342.6,180.4 L345.0,178.0 L349.0,177.2 L353.7,176.4 L356.9,174.8 L361.7,171.6 L366.5,170.8 L372.9,171.6 L377.6,174.0 L381.6,176.4 L384.3,178.0 L385.0,173.0 L385.5,169.5 L388.0,170.5 L390.0,171.5 L394.0,170.8 L400.0,170.5 L405.0,170.0 L407.5,168.5 L409.5,167.0 M363.3,184.0 L364.9,183.5 L366.2,189.1 L364.1,191.0 L362.5,189.9Z M384.3,178.8 L387.0,181.0 L391.0,183.0 L395.0,183.5 L398.5,184.0 L401.0,186.5 L403.0,188.5 L407.0,189.0 L411.0,190.5 L415.0,192.0 L419.0,193.0 L422.0,194.5 L424.0,198.0 L427.0,204.0 L423.0,205.0 L425.0,210.0 L428.0,215.0 L429.0,224.0 L429.4,231.0 L426.0,234.0 L424.0,240.0 L420.0,245.0 L416.6,247.0 L416.0,253.0 L417.0,258.0 L423.0,260.0 L426.0,260.6 L428.0,255.0 L429.4,248.0 L431.0,244.0 L437.0,240.0 L442.0,239.0 L447.0,241.0 L451.0,245.0 L454.0,255.0 L457.0,265.0 L460.0,275.0 L461.0,280.0 M467.0,188.0 L478.0,187.0 L479.0,192.0 L483.0,196.0 L487.0,197.0 L486.0,203.0 L489.0,204.0 L492.0,209.0 L496.0,204.0 L499.0,206.0 L504.0,209.0 L513.5,210.0 M467.0,188.0 L472.0,193.0 L477.0,198.0 L480.0,204.0 L482.0,210.0 L481.0,216.0 L477.0,222.0 L475.0,228.0 L474.0,234.0 L476.0,241.0 L478.0,251.0 L478.6,258.0 L476.0,265.0 L471.0,271.0 L465.0,276.0 L461.0,280.0 L460.8,284.0 L460.8,290.0 L458.8,293.9 M457.8,293.9 L464.7,297.8 L464.7,302.8 L457.8,304.8 L449.8,305.4 L451.0,300.0 L454.0,296.0Z M449.8,305.4 L447.0,313.0 L446.8,315.8 M513.5,284.3 L507.6,283.5 L499.6,284.3 L492.6,287.0 L487.6,291.0 L483.7,297.0 L479.7,302.0 L474.7,306.0 L469.7,310.0 L465.7,314.0 L465.3,319.4 L462.0,316.0 L458.8,316.8 L453.8,318.8 L448.8,317.8 L446.8,315.8 M446.8,315.8 L444.8,321.8 L441.8,326.7 L440.8,330.7 L445.8,332.7 L450.8,333.7 L453.8,336.7 L457.8,335.3 L461.8,335.7 L465.7,337.7 L469.7,339.3 L475.7,336.7 L483.7,336.7 L487.6,334.7 L491.6,330.7 L493.2,327.7 L495.6,324.7 L501.6,319.8 L507.6,314.8 L513.5,311.4 M329.0,352.0 L332.0,385.0 L335.4,422.5 M349.0,341.4 L403.0,334.4 L441.0,329.4 M403.0,334.4 L408.0,375.0 L413.4,419.0 L414.0,422.5 M503.5,417.0 L503.5,422.5 M453.0,336.5 L457.0,334.5 L459.0,336.5 L461.0,334.0 L462.5,336.5 L457.0,338.5 L453.0,339.0 M479.5,301.2 L480.7,302.2 L479.7,303.0 M418.0,169.5 L419.5,168.3 L421.0,169.5 L419.5,170.8Z M423.2,169.6 L424.4,168.6 L425.6,169.6 L424.4,170.6Z M461.0,156.0 L462.0,153.5 L464.0,155.5 L462.5,157.0 L464.5,158.5 L462.0,159.5 M474.0,157.2 L475.5,156.2 L476.3,158.0 L474.8,159.0Z M294.0,130.5 L295.5,128.5 M286.5,141.0 L287.5,143.5 L285.5,146.0"/>
<circle cx="169.4" cy="97.6" r="4.05" fill="none" stroke="#111" stroke-width="1.0"/>
<circle cx="204.0" cy="114.0" r="4.05" fill="none" stroke="#111" stroke-width="1.0"/>
<circle cx="115.0" cy="120.6" r="4.05" fill="none" stroke="#111" stroke-width="1.0"/>
<circle cx="68.6" cy="158.0" r="4.05" fill="none" stroke="#111" stroke-width="1.0"/>
<circle cx="94.4" cy="161.0" r="4.05" fill="none" stroke="#111" stroke-width="1.0"/>
<circle cx="139.0" cy="177.6" r="4.05" fill="none" stroke="#111" stroke-width="1.0"/>
<circle cx="149.0" cy="184.6" r="4.05" fill="none" stroke="#111" stroke-width="1.0"/>
<circle cx="180.4" cy="163.4" r="4.05" fill="none" stroke="#111" stroke-width="1.0"/>
<circle cx="191.4" cy="158.6" r="4.05" fill="none" stroke="#111" stroke-width="1.0"/>
<circle cx="228.6" cy="165.0" r="4.05" fill="none" stroke="#111" stroke-width="1.0"/>
<circle cx="256.0" cy="184.4" r="4.05" fill="none" stroke="#111" stroke-width="1.0"/>
<circle cx="140.0" cy="210.6" r="4.05" fill="none" stroke="#111" stroke-width="1.0"/>
<circle cx="164.6" cy="215.4" r="4.05" fill="none" stroke="#111" stroke-width="1.0"/>
<circle cx="153.0" cy="223.5" r="4.05" fill="none" stroke="#111" stroke-width="1.0"/>
<circle cx="165.0" cy="225.0" r="4.05" fill="none" stroke="#111" stroke-width="1.0"/>
<circle cx="176.4" cy="223.5" r="4.05" fill="none" stroke="#111" stroke-width="1.0"/>
<circle cx="233.6" cy="219.0" r="4.05" fill="none" stroke="#111" stroke-width="1.0"/>
<circle cx="351.0" cy="165.0" r="4.05" fill="none" stroke="#111" stroke-width="1.0"/>
<circle cx="279.4" cy="201.0" r="4.05" fill="none" stroke="#111" stroke-width="1.0"/>
<circle cx="328.6" cy="209.0" r="4.05" fill="none" stroke="#111" stroke-width="1.0"/>
<circle cx="61.4" cy="237.0" r="4.05" fill="none" stroke="#111" stroke-width="1.0"/>
<circle cx="70.0" cy="258.4" r="4.05" fill="none" stroke="#111" stroke-width="1.0"/>
<circle cx="96.4" cy="254.6" r="4.05" fill="none" stroke="#111" stroke-width="1.0"/>
<circle cx="70.6" cy="287.6" r="4.05" fill="none" stroke="#111" stroke-width="1.0"/>
<circle cx="39.4" cy="320.6" r="4.05" fill="none" stroke="#111" stroke-width="1.0"/>
<circle cx="67.4" cy="318.6" r="4.05" fill="none" stroke="#111" stroke-width="1.0"/>
<circle cx="127.6" cy="305.0" r="4.05" fill="none" stroke="#111" stroke-width="1.5"/>
<circle cx="188.0" cy="317.4" r="4.05" fill="none" stroke="#111" stroke-width="1.5"/>
<circle cx="145.6" cy="265.4" r="4.05" fill="none" stroke="#111" stroke-width="1.0"/>
<circle cx="171.4" cy="251.0" r="4.05" fill="none" stroke="#111" stroke-width="1.0"/>
<circle cx="187.4" cy="269.0" r="4.05" fill="none" stroke="#111" stroke-width="1.0"/>
<circle cx="157.4" cy="239.4" r="4.05" fill="none" stroke="#111" stroke-width="1.0"/>
<circle cx="164.4" cy="232.6" r="4.05" fill="none" stroke="#111" stroke-width="1.0"/>
<circle cx="213.4" cy="237.6" r="4.05" fill="none" stroke="#111" stroke-width="1.0"/>
<circle cx="257.0" cy="236.6" r="4.05" fill="none" stroke="#111" stroke-width="1.0"/>
<circle cx="220.4" cy="275.4" r="4.05" fill="none" stroke="#111" stroke-width="1.0"/>
<circle cx="263.0" cy="285.6" r="4.05" fill="none" stroke="#111" stroke-width="1.0"/>
<circle cx="307.0" cy="239.0" r="4.05" fill="none" stroke="#111" stroke-width="1.0"/>
<circle cx="318.4" cy="241.0" r="4.05" fill="none" stroke="#111" stroke-width="1.0"/>
<circle cx="295.0" cy="248.6" r="4.05" fill="none" stroke="#111" stroke-width="1.0"/>
<circle cx="316.4" cy="253.0" r="4.05" fill="none" stroke="#111" stroke-width="1.0"/>
<circle cx="313.0" cy="266.4" r="4.05" fill="none" stroke="#111" stroke-width="1.0"/>
<circle cx="316.0" cy="271.4" r="4.05" fill="none" stroke="#111" stroke-width="1.0"/>
<circle cx="313.6" cy="278.4" r="4.05" fill="none" stroke="#111" stroke-width="1.0"/>
<circle cx="311.4" cy="285.0" r="4.05" fill="none" stroke="#111" stroke-width="1.0"/>
<circle cx="312.4" cy="290.0" r="4.05" fill="none" stroke="#111" stroke-width="1.0"/>
<circle cx="312.4" cy="294.0" r="4.05" fill="none" stroke="#111" stroke-width="1.0"/>
<circle cx="312.0" cy="298.0" r="4.05" fill="none" stroke="#111" stroke-width="1.0"/>
<circle cx="296.4" cy="273.0" r="4.05" fill="none" stroke="#111" stroke-width="1.0"/>
<circle cx="291.6" cy="282.0" r="4.05" fill="none" stroke="#111" stroke-width="1.0"/>
<circle cx="279.0" cy="289.0" r="4.05" fill="none" stroke="#111" stroke-width="1.0"/>
<circle cx="273.0" cy="298.0" r="4.05" fill="none" stroke="#111" stroke-width="1.0"/>
<circle cx="287.6" cy="300.4" r="4.05" fill="none" stroke="#111" stroke-width="1.0"/>
<circle cx="304.4" cy="298.0" r="4.05" fill="none" stroke="#111" stroke-width="1.0"/>
<circle cx="316.6" cy="306.4" r="4.05" fill="none" stroke="#111" stroke-width="1.0"/>
<circle cx="298.4" cy="312.6" r="4.05" fill="none" stroke="#111" stroke-width="1.0"/>
<circle cx="315.0" cy="313.0" r="4.05" fill="none" stroke="#111" stroke-width="1.0"/>
<circle cx="317.4" cy="317.6" r="4.05" fill="none" stroke="#111" stroke-width="1.0"/>
<circle cx="283.0" cy="319.5" r="4.05" fill="none" stroke="#111" stroke-width="1.0"/>
<circle cx="284.5" cy="326.8" r="4.05" fill="none" stroke="#111" stroke-width="1.0"/>
<circle cx="354.0" cy="230.0" r="4.05" fill="none" stroke="#111" stroke-width="1.0"/>
<circle cx="352.4" cy="242.6" r="4.05" fill="none" stroke="#111" stroke-width="1.0"/>
<circle cx="352.4" cy="256.4" r="4.05" fill="none" stroke="#111" stroke-width="1.0"/>
<circle cx="366.4" cy="245.6" r="4.05" fill="none" stroke="#111" stroke-width="1.0"/>
<circle cx="388.4" cy="237.6" r="4.05" fill="none" stroke="#111" stroke-width="1.0"/>
<circle cx="355.0" cy="282.4" r="4.05" fill="none" stroke="#111" stroke-width="1.0"/>
<circle cx="379.6" cy="283.4" r="4.05" fill="none" stroke="#111" stroke-width="1.0"/>
<circle cx="373.6" cy="291.4" r="4.05" fill="none" stroke="#111" stroke-width="1.0"/>
<circle cx="369.0" cy="295.6" r="4.05" fill="none" stroke="#111" stroke-width="1.0"/>
<circle cx="361.6" cy="301.4" r="4.05" fill="none" stroke="#111" stroke-width="1.0"/>
<circle cx="380.5" cy="318.2" r="4.05" fill="none" stroke="#111" stroke-width="1.0"/>
<circle cx="359.8" cy="324.0" r="4.05" fill="none" stroke="#111" stroke-width="1.0"/>
<circle cx="409.0" cy="293.6" r="4.05" fill="none" stroke="#111" stroke-width="1.0"/>
<circle cx="404.6" cy="296.0" r="4.05" fill="none" stroke="#111" stroke-width="1.0"/>
<circle cx="424.4" cy="306.4" r="4.05" fill="none" stroke="#111" stroke-width="1.0"/>
<circle cx="433.6" cy="312.2" r="4.05" fill="none" stroke="#111" stroke-width="1.0"/>
<circle cx="425.6" cy="322.6" r="4.05" fill="none" stroke="#111" stroke-width="1.0"/>
<circle cx="432.6" cy="258.4" r="4.05" fill="none" stroke="#111" stroke-width="1.0"/>
<circle cx="450.4" cy="246.6" r="4.05" fill="none" stroke="#111" stroke-width="1.0"/>
<circle cx="432.6" cy="275.6" r="4.05" fill="none" stroke="#111" stroke-width="1.0"/>
<circle cx="427.4" cy="281.4" r="4.05" fill="none" stroke="#111" stroke-width="1.0"/>
<circle cx="460.5" cy="279.8" r="4.05" fill="none" stroke="#111" stroke-width="1.0"/>
<circle cx="452.7" cy="289.8" r="4.05" fill="none" stroke="#111" stroke-width="1.0"/>
<circle cx="443.7" cy="301.5" r="4.05" fill="none" stroke="#111" stroke-width="1.0"/>
<circle cx="448.5" cy="300.2" r="4.05" fill="none" stroke="#111" stroke-width="1.0"/>
<circle cx="444.3" cy="310.9" r="4.05" fill="none" stroke="#111" stroke-width="1.0"/>
<circle cx="79.4" cy="328.4" r="4.05" fill="none" stroke="#111" stroke-width="1.5"/>
<circle cx="94.6" cy="356.0" r="4.05" fill="none" stroke="#111" stroke-width="1.5"/>
<circle cx="94.4" cy="375.0" r="4.05" fill="none" stroke="#111" stroke-width="1.0"/>
<circle cx="93.6" cy="378.6" r="4.05" fill="none" stroke="#111" stroke-width="1.0"/>
<circle cx="74.4" cy="389.0" r="4.05" fill="none" stroke="#111" stroke-width="1.0"/>
<circle cx="120.0" cy="389.0" r="4.05" fill="none" stroke="#111" stroke-width="1.5"/>
<circle cx="156.4" cy="354.0" r="4.05" fill="none" stroke="#111" stroke-width="1.5"/>
<circle cx="158.4" cy="363.0" r="4.05" fill="none" stroke="#111" stroke-width="1.5"/>
<circle cx="216.0" cy="334.0" r="4.05" fill="none" stroke="#111" stroke-width="1.5"/>
<circle cx="212.0" cy="346.0" r="4.05" fill="none" stroke="#111" stroke-width="1.5"/>
<circle cx="258.0" cy="330.6" r="4.05" fill="none" stroke="#111" stroke-width="1.0"/>
<circle cx="254.4" cy="347.0" r="4.05" fill="none" stroke="#111" stroke-width="1.5"/>
<circle cx="245.4" cy="354.6" r="4.05" fill="none" stroke="#111" stroke-width="1.5"/>
<circle cx="244.6" cy="361.6" r="4.05" fill="none" stroke="#111" stroke-width="1.0"/>
<circle cx="206.0" cy="396.0" r="4.05" fill="none" stroke="#111" stroke-width="1.5"/>
<circle cx="26.6" cy="391.0" r="4.05" fill="none" stroke="#111" stroke-width="1.0"/>
<circle cx="226.5" cy="425.4" r="4.05" fill="none" stroke="#111" stroke-width="1.0"/>
<circle cx="306.5" cy="328.8" r="4.05" fill="none" stroke="#111" stroke-width="1.0"/>
<circle cx="306.0" cy="336.5" r="4.05" fill="none" stroke="#111" stroke-width="1.0"/>
<circle cx="315.5" cy="316.0" r="4.05" fill="none" stroke="#111" stroke-width="1.0"/>
<circle cx="318.0" cy="331.5" r="4.05" fill="none" stroke="#111" stroke-width="1.0"/>
<circle cx="323.0" cy="333.5" r="4.05" fill="none" stroke="#111" stroke-width="1.0"/>
<circle cx="319.5" cy="337.5" r="4.05" fill="none" stroke="#111" stroke-width="1.0"/>
<circle cx="313.0" cy="344.0" r="4.05" fill="none" stroke="#111" stroke-width="1.0"/>
<circle cx="315.5" cy="349.5" r="4.05" fill="none" stroke="#111" stroke-width="1.0"/>
<circle cx="321.5" cy="342.0" r="4.05" fill="none" stroke="#111" stroke-width="1.0"/>
<circle cx="322.5" cy="348.0" r="4.05" fill="none" stroke="#111" stroke-width="1.0"/>
<circle cx="328.0" cy="344.5" r="4.05" fill="none" stroke="#111" stroke-width="1.0"/>
<circle cx="329.5" cy="349.5" r="4.05" fill="none" stroke="#111" stroke-width="1.0"/>
<circle cx="334.0" cy="350.0" r="4.05" fill="none" stroke="#111" stroke-width="1.0"/>
<circle cx="337.5" cy="348.5" r="4.05" fill="none" stroke="#111" stroke-width="1.0"/>
<circle cx="342.5" cy="352.8" r="4.05" fill="none" stroke="#111" stroke-width="1.0"/>
<circle cx="345.0" cy="344.0" r="4.05" fill="none" stroke="#111" stroke-width="1.0"/>
<circle cx="352.0" cy="347.0" r="4.05" fill="none" stroke="#111" stroke-width="1.0"/>
<circle cx="360.8" cy="349.0" r="4.05" fill="none" stroke="#111" stroke-width="1.0"/>
<circle cx="364.5" cy="342.5" r="4.05" fill="none" stroke="#111" stroke-width="1.0"/>
<circle cx="366.5" cy="340.0" r="4.05" fill="none" stroke="#111" stroke-width="1.0"/>
<circle cx="369.5" cy="334.0" r="4.05" fill="none" stroke="#111" stroke-width="1.0"/>
<circle cx="375.5" cy="340.8" r="4.05" fill="none" stroke="#111" stroke-width="1.0"/>
<circle cx="311.6" cy="367.2" r="4.05" fill="none" stroke="#111" stroke-width="1.0"/>
<circle cx="273.8" cy="388.7" r="4.05" fill="none" stroke="#111" stroke-width="1.0"/>
<circle cx="273.8" cy="391.8" r="4.05" fill="none" stroke="#111" stroke-width="1.0"/>
<circle cx="291.4" cy="396.6" r="4.05" fill="none" stroke="#111" stroke-width="1.0"/>
<circle cx="315.1" cy="404.7" r="4.05" fill="none" stroke="#111" stroke-width="1.0"/>
<circle cx="310.6" cy="412.8" r="4.05" fill="none" stroke="#111" stroke-width="1.0"/>
<circle cx="295.5" cy="420.7" r="4.05" fill="none" stroke="#111" stroke-width="1.0"/>
<circle cx="275.0" cy="425.4" r="4.05" fill="none" stroke="#111" stroke-width="1.0"/>
<circle cx="384.0" cy="374.6" r="4.05" fill="none" stroke="#111" stroke-width="1.0"/>
<circle cx="360.3" cy="388.4" r="4.05" fill="none" stroke="#111" stroke-width="1.0"/>
<circle cx="372.9" cy="389.1" r="4.05" fill="none" stroke="#111" stroke-width="1.0"/>
<circle cx="398.4" cy="362.5" r="4.05" fill="none" stroke="#111" stroke-width="1.0"/>
<circle cx="399.6" cy="356.6" r="4.05" fill="none" stroke="#111" stroke-width="1.0"/>
<circle cx="397.8" cy="392.7" r="4.05" fill="none" stroke="#111" stroke-width="1.0"/>
<circle cx="387.5" cy="401.0" r="4.05" fill="none" stroke="#111" stroke-width="1.0"/>
<circle cx="377.9" cy="404.3" r="4.05" fill="none" stroke="#111" stroke-width="1.0"/>
<circle cx="366.8" cy="408.5" r="4.05" fill="none" stroke="#111" stroke-width="1.0"/>
<circle cx="378.3" cy="412.1" r="4.05" fill="none" stroke="#111" stroke-width="1.0"/>
<circle cx="375.0" cy="415.5" r="4.05" fill="none" stroke="#111" stroke-width="1.0"/>
<circle cx="371.6" cy="417.5" r="4.05" fill="none" stroke="#111" stroke-width="1.0"/>
<circle cx="367.5" cy="417.5" r="4.05" fill="none" stroke="#111" stroke-width="1.0"/>
<circle cx="383.7" cy="420.3" r="4.05" fill="none" stroke="#111" stroke-width="1.0"/>
<circle cx="434.7" cy="341.2" r="4.05" fill="none" stroke="#111" stroke-width="1.0"/>
<circle cx="438.2" cy="345.3" r="4.05" fill="none" stroke="#111" stroke-width="1.0"/>
<circle cx="486.7" cy="349.5" r="4.05" fill="none" stroke="#111" stroke-width="1.0"/>
<circle cx="498.1" cy="361.4" r="4.05" fill="none" stroke="#111" stroke-width="1.0"/>
<circle cx="429.2" cy="370.2" r="4.05" fill="none" stroke="#111" stroke-width="1.0"/>
<circle cx="459.2" cy="381.7" r="4.05" fill="none" stroke="#111" stroke-width="1.0"/>
<circle cx="470.2" cy="382.6" r="4.05" fill="none" stroke="#111" stroke-width="1.0"/>
<circle cx="463.6" cy="391.3" r="4.05" fill="none" stroke="#111" stroke-width="1.0"/>
<circle cx="468.3" cy="390.8" r="4.05" fill="none" stroke="#111" stroke-width="1.0"/>
<circle cx="470.1" cy="396.1" r="4.05" fill="none" stroke="#111" stroke-width="1.0"/>
<circle cx="431.2" cy="396.4" r="4.05" fill="none" stroke="#111" stroke-width="1.0"/>
<circle cx="440.5" cy="398.3" r="4.05" fill="none" stroke="#111" stroke-width="1.0"/>
<circle cx="450.4" cy="405.2" r="4.05" fill="none" stroke="#111" stroke-width="1.0"/>
<circle cx="435.9" cy="404.8" r="4.05" fill="none" stroke="#111" stroke-width="1.0"/>
<circle cx="431.7" cy="408.0" r="4.05" fill="none" stroke="#111" stroke-width="1.0"/>
<circle cx="438.2" cy="411.8" r="4.05" fill="none" stroke="#111" stroke-width="1.0"/>
<circle cx="415.1" cy="408.3" r="4.05" fill="none" stroke="#111" stroke-width="1.0"/>
<circle cx="416.6" cy="419.7" r="4.05" fill="none" stroke="#111" stroke-width="1.0"/>
<circle cx="425.9" cy="418.8" r="4.05" fill="none" stroke="#111" stroke-width="1.0"/>
<circle cx="432.0" cy="421.0" r="4.05" fill="none" stroke="#111" stroke-width="1.0"/>
<circle cx="443.4" cy="419.7" r="4.05" fill="none" stroke="#111" stroke-width="1.0"/>
<circle cx="508.3" cy="413.6" r="4.05" fill="none" stroke="#111" stroke-width="1.0"/>
<circle cx="445.4" cy="332.4" r="4.05" fill="none" stroke="#111" stroke-width="1.0"/>
<circle cx="438.2" cy="334.6" r="4.05" fill="none" stroke="#111" stroke-width="1.0"/>
<circle cx="479.8" cy="336.7" r="4.05" fill="none" stroke="#111" stroke-width="1.0"/>
<circle cx="486.7" cy="337.6" r="4.05" fill="none" stroke="#111" stroke-width="1.0"/>
<circle cx="491.0" cy="331.8" r="4.05" fill="none" stroke="#111" stroke-width="1.0"/>
<circle cx="493.3" cy="328.7" r="4.05" fill="none" stroke="#111" stroke-width="1.0"/>
<circle cx="169.4" cy="97.6" r="3.5" fill="#40b060"/>
<circle cx="204.0" cy="114.0" r="3.5" fill="#00967a"/>
<circle cx="115.0" cy="120.6" r="3.5" fill="#60b858"/>
<circle cx="68.6" cy="158.0" r="3.5" fill="#c4d444"/>
<circle cx="94.4" cy="161.0" r="3.5" fill="#c0d244"/>
<circle cx="139.0" cy="177.6" r="3.5" fill="#60b858"/>
<circle cx="149.0" cy="184.6" r="3.5" fill="#008e82"/>
<circle cx="180.4" cy="163.4" r="3.5" fill="#00868c"/>
<circle cx="191.4" cy="158.6" r="3.5" fill="#027e98"/>
<circle cx="228.6" cy="165.0" r="3.5" fill="#0476a8"/>
<circle cx="256.0" cy="184.4" r="3.5" fill="#00868c"/>
<circle cx="140.0" cy="210.6" r="3.5" fill="#62b858"/>
<circle cx="164.6" cy="215.4" r="3.5" fill="#109080"/>
<circle cx="153.0" cy="223.5" r="3.5" fill="#50b060"/>
<circle cx="165.0" cy="225.0" r="3.5" fill="#00967a"/>
<circle cx="176.4" cy="223.5" r="3.5" fill="#00868c"/>
<circle cx="233.6" cy="219.0" r="3.5" fill="#027e98"/>
<circle cx="351.0" cy="165.0" r="3.5" fill="#0476a8"/>
<circle cx="279.4" cy="201.0" r="3.5" fill="#0476a8"/>
<circle cx="328.6" cy="209.0" r="3.5" fill="#0672b0"/>
<circle cx="61.4" cy="237.0" r="3.5" fill="#008e82"/>
<circle cx="70.0" cy="258.4" r="3.5" fill="#50b060"/>
<circle cx="96.4" cy="254.6" r="3.5" fill="#c0d444"/>
<circle cx="70.6" cy="287.6" r="3.5" fill="#40b060"/>
<circle cx="39.4" cy="320.6" r="3.5" fill="#a0c850"/>
<circle cx="67.4" cy="318.6" r="3.5" fill="#50b060"/>
<circle cx="127.6" cy="305.0" r="3.5" fill="#40b060"/>
<circle cx="188.0" cy="317.4" r="3.5" fill="#00868c"/>
<circle cx="145.6" cy="265.4" r="3.5" fill="#00967a"/>
<circle cx="171.4" cy="251.0" r="3.5" fill="#00967a"/>
<circle cx="187.4" cy="269.0" r="3.5" fill="#60b0f0"/>
<circle cx="157.4" cy="239.4" r="3.5" fill="#00868c"/>
<circle cx="164.4" cy="232.6" r="3.5" fill="#008e82"/>
<circle cx="213.4" cy="237.6" r="3.5" fill="#0672b0"/>
<circle cx="257.0" cy="236.6" r="3.5" fill="#027e98"/>
<circle cx="220.4" cy="275.4" r="3.5" fill="#027e98"/>
<circle cx="263.0" cy="285.6" r="3.5" fill="#027e98"/>
<circle cx="307.0" cy="239.0" r="3.5" fill="#0672b0"/>
<circle cx="318.4" cy="241.0" r="3.5" fill="#027e98"/>
<circle cx="295.0" cy="248.6" r="3.5" fill="#027e98"/>
<circle cx="316.4" cy="253.0" r="3.5" fill="#0a73b4"/>
<circle cx="313.0" cy="266.4" r="3.5" fill="#0672b0"/>
<circle cx="316.0" cy="271.4" r="3.5" fill="#0672b0"/>
<circle cx="313.6" cy="278.4" r="3.5" fill="#0672b0"/>
<circle cx="311.4" cy="285.0" r="3.5" fill="#0672b0"/>
<circle cx="312.4" cy="290.0" r="3.5" fill="#0672b0"/>
<circle cx="312.4" cy="294.0" r="3.5" fill="#0672b0"/>
<circle cx="312.0" cy="298.0" r="3.5" fill="#3895db"/>
<circle cx="296.4" cy="273.0" r="3.5" fill="#0476a8"/>
<circle cx="291.6" cy="282.0" r="3.5" fill="#00868c"/>
<circle cx="279.0" cy="289.0" r="3.5" fill="#027e98"/>
<circle cx="273.0" cy="298.0" r="3.5" fill="#0672b0"/>
<circle cx="287.6" cy="300.4" r="3.5" fill="#187cc2"/>
<circle cx="304.4" cy="298.0" r="3.5" fill="#187cc2"/>
<circle cx="316.6" cy="306.4" r="3.5" fill="#2284ca"/>
<circle cx="298.4" cy="312.6" r="3.5" fill="#2284ca"/>
<circle cx="315.0" cy="313.0" r="3.5" fill="#0a73b4"/>
<circle cx="317.4" cy="317.6" r="3.5" fill="#187cc2"/>
<circle cx="283.0" cy="319.5" r="3.5" fill="#2284ca"/>
<circle cx="284.5" cy="326.8" r="3.5" fill="#2c8cd2"/>
<circle cx="354.0" cy="230.0" r="3.5" fill="#0672b0"/>
<circle cx="352.4" cy="242.6" r="3.5" fill="#0672b0"/>
<circle cx="352.4" cy="256.4" r="3.5" fill="#0672b0"/>
<circle cx="366.4" cy="245.6" r="3.5" fill="#027e98"/>
<circle cx="388.4" cy="237.6" r="3.5" fill="#2284ca"/>
<circle cx="355.0" cy="282.4" r="3.5" fill="#0476a8"/>
<circle cx="379.6" cy="283.4" r="3.5" fill="#027e98"/>
<circle cx="373.6" cy="291.4" r="3.5" fill="#187cc2"/>
<circle cx="369.0" cy="295.6" r="3.5" fill="#0476a8"/>
<circle cx="361.6" cy="301.4" r="3.5" fill="#027e98"/>
<circle cx="380.5" cy="318.2" r="3.5" fill="#00868c"/>
<circle cx="359.8" cy="324.0" r="3.5" fill="#0672b0"/>
<circle cx="409.0" cy="293.6" r="3.5" fill="#0672b0"/>
<circle cx="404.6" cy="296.0" r="3.5" fill="#0672b0"/>
<circle cx="424.4" cy="306.4" r="3.5" fill="#187cc2"/>
<circle cx="433.6" cy="312.2" r="3.5" fill="#0a73b4"/>
<circle cx="425.6" cy="322.6" r="3.5" fill="#00868c"/>
<circle cx="432.6" cy="258.4" r="3.5" fill="#3895db"/>
<circle cx="450.4" cy="246.6" r="3.5" fill="#187cc2"/>
<circle cx="432.6" cy="275.6" r="3.5" fill="#429ce2"/>
<circle cx="427.4" cy="281.4" r="3.5" fill="#3895db"/>
<circle cx="460.5" cy="279.8" r="3.5" fill="#2284ca"/>
<circle cx="452.7" cy="289.8" r="3.5" fill="#187cc2"/>
<circle cx="443.7" cy="301.5" r="3.5" fill="#0a73b4"/>
<circle cx="448.5" cy="300.2" r="3.5" fill="#0a73b4"/>
<circle cx="444.3" cy="310.9" r="3.5" fill="#2284ca"/>
<circle cx="79.4" cy="328.4" r="3.5" fill="#b8d048"/>
<circle cx="94.6" cy="356.0" r="3.5" fill="#a0c84c"/>
<circle cx="94.4" cy="375.0" r="3.5" fill="#00967a"/>
<circle cx="93.6" cy="378.6" r="3.5" fill="#00967a"/>
<circle cx="74.4" cy="389.0" r="3.5" fill="#00967a"/>
<circle cx="120.0" cy="389.0" r="3.5" fill="#20a068"/>
<circle cx="156.4" cy="354.0" r="3.5" fill="#00967a"/>
<circle cx="158.4" cy="363.0" r="3.5" fill="#2088d0"/>
<circle cx="216.0" cy="334.0" r="3.5" fill="#027e98"/>
<circle cx="212.0" cy="346.0" r="3.5" fill="#027e98"/>
<circle cx="258.0" cy="330.6" r="3.5" fill="#0a73b4"/>
<circle cx="254.4" cy="347.0" r="3.5" fill="#0476a8"/>
<circle cx="245.4" cy="354.6" r="3.5" fill="#00868c"/>
<circle cx="244.6" cy="361.6" r="3.5" fill="#0476a8"/>
<circle cx="206.0" cy="396.0" r="3.5" fill="#00868c"/>
<circle cx="26.6" cy="391.0" r="3.5" fill="#d0d0d0"/>
<circle cx="226.5" cy="425.4" r="3.5" fill="#429ce2"/>
<circle cx="306.5" cy="328.8" r="3.5" fill="#3895db"/>
<circle cx="306.0" cy="336.5" r="3.5" fill="#2284ca"/>
<circle cx="315.5" cy="316.0" r="3.5" fill="#0a73b4"/>
<circle cx="318.0" cy="331.5" r="3.5" fill="#2c8cd2"/>
<circle cx="323.0" cy="333.5" r="3.5" fill="#2c8cd2"/>
<circle cx="319.5" cy="337.5" r="3.5" fill="#0a73b4"/>
<circle cx="313.0" cy="344.0" r="3.5" fill="#429ce2"/>
<circle cx="315.5" cy="349.5" r="3.5" fill="#3895db"/>
<circle cx="321.5" cy="342.0" r="3.5" fill="#2c8cd2"/>
<circle cx="322.5" cy="348.0" r="3.5" fill="#2c8cd2"/>
<circle cx="328.0" cy="344.5" r="3.5" fill="#0672b0"/>
<circle cx="329.5" cy="349.5" r="3.5" fill="#0a73b4"/>
<circle cx="334.0" cy="350.0" r="3.5" fill="#2284ca"/>
<circle cx="337.5" cy="348.5" r="3.5" fill="#0a73b4"/>
<circle cx="342.5" cy="352.8" r="3.5" fill="#187cc2"/>
<circle cx="345.0" cy="344.0" r="3.5" fill="#0a73b4"/>
<circle cx="352.0" cy="347.0" r="3.5" fill="#187cc2"/>
<circle cx="360.8" cy="349.0" r="3.5" fill="#0a73b4"/>
<circle cx="364.5" cy="342.5" r="3.5" fill="#0a73b4"/>
<circle cx="366.5" cy="340.0" r="3.5" fill="#0a73b4"/>
<circle cx="369.5" cy="334.0" r="3.5" fill="#187cc2"/>
<circle cx="375.5" cy="340.8" r="3.5" fill="#187cc2"/>
<circle cx="311.6" cy="367.2" r="3.5" fill="#187cc2"/>
<circle cx="273.8" cy="388.7" r="3.5" fill="#2c8cd2"/>
<circle cx="273.8" cy="391.8" r="3.5" fill="#2c8cd2"/>
<circle cx="291.4" cy="396.6" r="3.5" fill="#2284ca"/>
<circle cx="315.1" cy="404.7" r="3.5" fill="#3895db"/>
<circle cx="310.6" cy="412.8" r="3.5" fill="#2284ca"/>
<circle cx="295.5" cy="420.7" r="3.5" fill="#2284ca"/>
<circle cx="275.0" cy="425.4" r="3.5" fill="#2c8cd2"/>
<circle cx="384.0" cy="374.6" r="3.5" fill="#187cc2"/>
<circle cx="360.3" cy="388.4" r="3.5" fill="#187cc2"/>
<circle cx="372.9" cy="389.1" r="3.5" fill="#0a73b4"/>
<circle cx="398.4" cy="362.5" r="3.5" fill="#187cc2"/>
<circle cx="399.6" cy="356.6" r="3.5" fill="#0a73b4"/>
<circle cx="397.8" cy="392.7" r="3.5" fill="#0a73b4"/>
<circle cx="387.5" cy="401.0" r="3.5" fill="#2c8cd2"/>
<circle cx="377.9" cy="404.3" r="3.5" fill="#0a73b4"/>
<circle cx="366.8" cy="408.5" r="3.5" fill="#187cc2"/>
<circle cx="378.3" cy="412.1" r="3.5" fill="#2284ca"/>
<circle cx="375.0" cy="415.5" r="3.5" fill="#0a73b4"/>
<circle cx="371.6" cy="417.5" r="3.5" fill="#0a73b4"/>
<circle cx="367.5" cy="417.5" r="3.5" fill="#187cc2"/>
<circle cx="383.7" cy="420.3" r="3.5" fill="#0a73b4"/>
<circle cx="434.7" cy="341.2" r="3.5" fill="#0a73b4"/>
<circle cx="438.2" cy="345.3" r="3.5" fill="#0a73b4"/>
<circle cx="486.7" cy="349.5" r="3.5" fill="#0476a8"/>
<circle cx="498.1" cy="361.4" r="3.5" fill="#008e82"/>
<circle cx="429.2" cy="370.2" r="3.5" fill="#0a73b4"/>
<circle cx="459.2" cy="381.7" r="3.5" fill="#187cc2"/>
<circle cx="470.2" cy="382.6" r="3.5" fill="#0a73b4"/>
<circle cx="463.6" cy="391.3" r="3.5" fill="#3895db"/>
<circle cx="468.3" cy="390.8" r="3.5" fill="#0a73b4"/>
<circle cx="470.1" cy="396.1" r="3.5" fill="#48a2e4"/>
<circle cx="431.2" cy="396.4" r="3.5" fill="#0476a8"/>
<circle cx="440.5" cy="398.3" r="3.5" fill="#0a73b4"/>
<circle cx="450.4" cy="405.2" r="3.5" fill="#0a73b4"/>
<circle cx="435.9" cy="404.8" r="3.5" fill="#0a73b4"/>
<circle cx="431.7" cy="408.0" r="3.5" fill="#2c8cd2"/>
<circle cx="438.2" cy="411.8" r="3.5" fill="#2284ca"/>
<circle cx="415.1" cy="408.3" r="3.5" fill="#187cc2"/>
<circle cx="416.6" cy="419.7" r="3.5" fill="#0476a8"/>
<circle cx="425.9" cy="418.8" r="3.5" fill="#2c8cd2"/>
<circle cx="432.0" cy="421.0" r="3.5" fill="#0a73b4"/>
<circle cx="443.4" cy="419.7" r="3.5" fill="#0672b0"/>
<circle cx="508.3" cy="413.6" r="3.5" fill="#187cc2"/>
<circle cx="445.4" cy="332.4" r="3.5" fill="#0672b0"/>
<circle cx="438.2" cy="334.6" r="3.5" fill="#0a73b4"/>
<circle cx="479.8" cy="336.7" r="3.5" fill="#2c8cd2"/>
<circle cx="486.7" cy="337.6" r="3.5" fill="#2c8cd2"/>
<circle cx="491.0" cy="331.8" r="3.5" fill="#2284ca"/>
<circle cx="493.3" cy="328.7" r="3.5" fill="#0a73b4"/>
</g>
<circle cx="472.3" cy="408.3" r="2.6" fill="#000"/>
<text x="483.4" y="412.7" font-size="12">AQS</text>
<rect x="28.5" y="28.5" width="485.0" height="394.0" fill="none" stroke="#000" stroke-width="1"/>
<line x1="45.5" y1="422.5" x2="45.5" y2="429.7" stroke="#000" stroke-width="1"/>
<text x="45.3" y="448.8" font-size="12" text-anchor="middle">-97.6</text>
<line x1="110.5" y1="422.5" x2="110.5" y2="429.7" stroke="#000" stroke-width="1"/>
<text x="110.5" y="448.8" font-size="12" text-anchor="middle">-95.6</text>
<line x1="175.5" y1="422.5" x2="175.5" y2="429.7" stroke="#000" stroke-width="1"/>
<text x="175.7" y="448.8" font-size="12" text-anchor="middle">-93.6</text>
<line x1="241.5" y1="422.5" x2="241.5" y2="429.7" stroke="#000" stroke-width="1"/>
<text x="240.9" y="448.8" font-size="12" text-anchor="middle">-91.6</text>
<line x1="306.5" y1="422.5" x2="306.5" y2="429.7" stroke="#000" stroke-width="1"/>
<text x="306.1" y="448.8" font-size="12" text-anchor="middle">-89.6</text>
<line x1="371.5" y1="422.5" x2="371.5" y2="429.7" stroke="#000" stroke-width="1"/>
<text x="371.3" y="448.8" font-size="12" text-anchor="middle">-87.6</text>
<line x1="436.5" y1="422.5" x2="436.5" y2="429.7" stroke="#000" stroke-width="1"/>
<text x="436.5" y="448.8" font-size="12" text-anchor="middle">-85.6</text>
<line x1="501.5" y1="422.5" x2="501.5" y2="429.7" stroke="#000" stroke-width="1"/>
<text x="501.7" y="448.8" font-size="12" text-anchor="middle">-83.6</text>
<line x1="21.3" y1="419.5" x2="28.5" y2="419.5" stroke="#000" stroke-width="1"/>
<text transform="translate(12,419.5) rotate(-90)" font-size="12" text-anchor="middle">40</text>
<line x1="21.3" y1="341.5" x2="28.5" y2="341.5" stroke="#000" stroke-width="1"/>
<text transform="translate(12,341.5) rotate(-90)" font-size="12" text-anchor="middle">42</text>
<line x1="21.3" y1="264.5" x2="28.5" y2="264.5" stroke="#000" stroke-width="1"/>
<text transform="translate(12,264.5) rotate(-90)" font-size="12" text-anchor="middle">44</text>
<line x1="21.3" y1="186.5" x2="28.5" y2="186.5" stroke="#000" stroke-width="1"/>
<text transform="translate(12,186.5) rotate(-90)" font-size="12" text-anchor="middle">46</text>
<line x1="21.3" y1="109.5" x2="28.5" y2="109.5" stroke="#000" stroke-width="1"/>
<text transform="translate(12,109.5) rotate(-90)" font-size="12" text-anchor="middle">48</text>
<line x1="21.3" y1="31.5" x2="28.5" y2="31.5" stroke="#000" stroke-width="1"/>
<text transform="translate(12,31.5) rotate(-90)" font-size="12" text-anchor="middle">50</text>
<text x="271" y="19.8" font-size="14.4" font-weight="bold" text-anchor="middle">EMBER 36km: O3_8HRMAX on 05/05/2025</text>
<g clip-path="url(#cr)">
<path transform="translate(600,0)" fill="none" stroke="#000" stroke-width="0.8" stroke-linejoin="round" d="M28.6,77.0 L59.0,77.6 L111.0,76.6 L111.0,62.0 L116.0,62.2 L118.6,64.4 L121.0,76.0 L122.6,85.0 L125.0,87.4 L129.0,88.0 L133.0,87.4 L134.0,89.0 L141.0,90.0 L144.6,91.0 L145.6,94.0 L149.0,94.4 L153.0,92.6 L155.0,90.6 L159.0,89.4 L165.0,89.4 L168.0,90.0 L170.0,92.0 L174.0,92.6 L174.6,95.0 L178.0,96.0 L179.0,100.0 L182.0,104.0 L184.0,100.0 L190.0,99.4 L191.0,102.6 L197.0,104.6 L200.0,108.0 L203.0,109.4 L209.0,108.0 L214.0,104.0 L218.6,101.4 L222.0,106.6 L229.0,106.0 L237.0,105.0 L241.0,106.0 L243.0,108.6 L249.0,108.0 L253.0,107.0 L257.0,104.0 L259.0,99.0 L259.4,93.0 L261.0,89.4 L265.0,87.4 L269.0,84.6 L272.0,83.0 L267.4,94.0 L269.0,94.6 L274.0,85.0 L275.0,89.0 L277.0,89.4 L280.0,83.0 L284.0,82.0 L285.0,79.0 L286.0,76.0 L291.0,75.0 L294.0,74.0 L294.6,71.0 L289.0,70.6 L284.0,73.0 L282.0,68.0 L286.0,65.4 L290.0,67.4 L295.0,68.6 L300.0,70.0 L304.0,71.4 L307.0,73.0 L312.0,72.0 L315.0,71.0 L318.0,72.0 L321.0,70.0 L325.0,71.4 L328.0,70.6 L331.0,74.6 L334.0,81.0 L337.0,88.0 L341.0,94.0 L345.0,98.0 L349.0,100.0 L355.0,100.0 L361.0,97.4 L367.0,96.2 L371.0,96.6 L371.4,100.0 L369.0,104.0 L369.4,107.4 L368.6,111.0 L372.0,114.0 L377.0,116.0 L380.6,119.0 L381.0,121.0 L380.0,123.5 L378.5,127.0 L377.5,132.0 L378.5,134.5 L381.5,135.8 L385.0,135.0 L388.0,135.5 L389.5,137.5 L388.0,139.5 L385.5,140.0 L384.5,142.5 L386.0,144.0 L388.5,144.0 L387.0,146.5 L385.0,149.0 L384.5,151.0 L386.5,152.5 L389.0,151.5 L392.0,150.5 L394.0,149.0 L396.5,148.5 L398.0,150.0 L398.5,153.0 L398.5,156.5 L400.0,157.5 L404.0,157.2 L408.0,157.5 L412.0,157.8 L418.0,158.2 L424.0,158.5 L429.0,157.8 L434.0,156.5 L439.0,155.5 L444.0,155.2 L448.0,156.2 L452.0,156.8 L456.0,156.5 L460.0,156.2 L461.0,158.5 L464.0,158.8 L468.0,158.5 L471.0,159.0 L475.0,158.0 L480.0,158.5 L486.0,158.0 L489.0,161.0 L493.0,167.0 L498.0,170.0 L501.0,176.0 L506.0,177.0 L509.0,181.0 L511.0,186.0 L513.5,188.0 M276.0,74.0 L279.0,72.6 L281.0,75.0 L280.0,80.0 L277.0,83.0 L275.0,80.0Z M262.0,112.0 L265.0,109.0 L271.0,104.0 L279.4,98.6 L277.0,103.0 L271.0,108.0 L266.0,112.0 L262.0,113.0Z M257.0,104.0 L253.0,108.0 L245.0,112.0 L237.0,116.0 L229.0,121.0 L225.0,125.0 L217.0,131.0 L211.0,139.0 L205.0,147.0 L199.0,153.0 L194.0,157.0 L191.4,158.6 L188.0,162.0 M59.0,77.6 L60.6,84.0 L62.2,90.0 L61.0,94.0 L61.4,109.0 L63.0,115.0 L66.0,125.0 L68.6,133.0 L69.4,145.0 L69.4,155.0 L70.6,165.0 L73.0,175.0 L76.0,183.0 L77.0,191.0 L76.6,197.0 L76.0,202.0 L71.0,206.0 L69.4,209.0 L72.0,214.0 L79.0,219.0 L80.0,225.0 L80.4,291.4 M28.6,196.5 L76.6,196.5 M80.4,291.4 L145.0,289.4 L221.0,286.6 M80.4,291.4 L76.6,292.0 L79.0,297.0 L77.4,301.0 L80.0,307.0 L79.0,313.0 L77.4,319.0 L76.0,323.0 L79.0,325.0 L79.0,329.0 L82.0,337.0 L85.0,345.0 L89.0,351.0 L90.0,357.0 L89.4,363.0 L93.0,368.0 L96.0,377.0 L96.0,385.0 L97.0,393.0 L98.0,399.0 L101.0,403.0 L104.0,411.0 L107.0,416.0 L110.0,419.0 L110.6,422.5 M28.6,315.0 L33.0,318.0 L45.0,317.4 L55.0,316.6 L61.0,319.0 L68.0,322.0 L73.0,324.0 L76.0,325.0 M101.0,403.0 L137.0,402.6 L175.0,401.0 L206.0,399.0 L214.0,398.6 L218.0,401.0 L222.0,405.0 L224.0,407.4 M188.0,162.0 L186.6,165.0 L187.4,175.0 L188.0,185.0 L186.6,189.4 L181.0,192.0 L176.0,196.0 L174.0,200.0 L172.0,205.0 L173.0,209.0 L177.0,212.0 L178.6,217.0 L177.0,221.0 L176.0,225.0 L178.0,231.0 L176.6,237.0 L179.0,243.0 L185.0,246.0 L191.0,250.0 L197.0,253.0 L202.0,259.0 L207.0,263.0 L213.0,267.0 L218.0,270.6 L220.6,275.0 L221.0,286.6 L225.0,292.0 L226.0,297.0 L223.0,302.0 L225.0,309.0 L227.0,315.0 L233.0,318.0 L239.0,320.0 L240.0,324.0 L245.0,328.0 L249.0,333.0 L253.0,337.0 L255.0,343.0 L253.0,349.0 L250.0,355.0 L249.0,360.0 L243.0,364.0 L235.0,365.0 L231.0,368.0 L230.6,374.0 L234.0,378.0 L235.0,384.0 L233.0,389.0 L231.0,395.0 L225.0,398.0 L223.0,402.0 L224.0,407.4 L222.0,413.0 L222.0,419.0 L223.0,422.5 M240.0,324.0 L265.0,322.4 L312.0,317.4 M188.0,163.0 L195.0,164.0 L201.0,162.0 L209.0,159.0 L214.0,156.0 L217.0,154.6 L220.0,153.0 L223.0,151.0 L225.0,153.0 L225.4,157.0 L223.0,161.0 L222.0,165.0 L225.0,166.0 L229.0,164.0 L232.0,165.0 L237.0,164.0 L243.0,160.0 L249.0,156.0 L257.0,153.0 L260.0,152.5 L263.0,150.5 L266.0,147.0 L270.0,145.8 L273.0,141.5 L276.0,138.5 L278.0,136.2 L280.5,135.0 L283.0,130.0 L287.0,127.0 L292.0,124.8 L297.0,124.2 L300.0,124.8 L301.2,126.5 L299.5,127.8 L296.0,128.2 L294.5,128.8 L294.0,130.5 L291.0,134.5 L288.0,139.5 L286.0,143.5 L284.5,145.0 L284.0,150.0 L284.5,153.5 L287.0,150.0 L290.0,146.5 L292.0,145.8 L296.0,146.2 L300.0,146.8 L304.0,149.0 L306.5,151.0 L310.0,155.0 L313.0,158.5 L314.5,160.8 L318.0,160.5 L321.0,159.0 L323.0,158.2 L325.0,160.0 L327.0,161.0 L329.0,159.8 L332.0,161.5 L335.0,158.0 L340.0,154.0 L344.5,150.3 L350.0,149.0 L356.0,148.5 L361.0,148.0 L366.0,144.5 L370.0,143.2 L374.0,143.2 L373.8,148.0 L373.8,154.0 L377.0,154.5 L380.0,155.0 L383.0,152.5 L385.5,155.0 L387.5,154.0 L388.5,151.8 L392.0,151.0 L394.0,154.0 L395.5,157.5 L396.5,160.5 L395.0,162.5 L398.0,163.5 L400.0,164.5 L403.0,167.0 L406.0,169.0 M278.0,136.2 L279.0,140.0 L281.5,141.0 L282.5,143.5 L284.5,145.0 M224.5,158.0 L226.0,156.0 M227.0,155.0 L230.0,152.0 M232.0,149.0 L233.0,146.0 M399.0,157.0 L403.0,156.5 L406.5,159.0 L407.5,161.0 L405.5,163.0 L404.0,165.0 L402.0,164.0 L400.0,161.0 L398.5,158.5Z M406.0,169.0 L409.0,166.5 L411.0,163.8 L413.5,164.5 L416.0,167.0 L420.0,167.8 L424.0,168.0 L429.0,166.8 L433.0,165.5 L434.5,168.0 L437.0,169.0 L440.0,168.0 L443.0,165.0 L446.0,163.0 L449.0,164.0 L450.5,166.5 L453.0,163.0 L456.0,161.2 L458.5,163.0 L460.0,165.0 L461.0,168.0 L463.0,164.0 L465.0,166.0 L466.5,168.5 L465.5,173.0 L463.0,177.0 L461.0,179.0 L458.0,178.5 L455.0,178.0 L450.0,176.5 L445.0,175.0 L440.0,173.5 L434.0,172.5 L428.0,171.5 L422.0,171.0 L417.0,171.5 L412.0,170.5 L407.0,170.5Z M461.5,178.0 L464.5,172.0 M235.0,166.0 L240.0,169.0 L243.0,174.0 L251.0,176.0 L265.0,179.0 L273.0,182.0 L283.0,184.0 L290.0,184.3 L295.6,185.1 L298.0,189.1 L303.5,191.5 L305.9,194.7 L305.1,201.1 L305.9,206.7 L309.1,208.2 L310.7,213.0 L312.3,216.2 M325.9,182.7 L324.3,190.7 L321.1,197.1 L317.9,205.1 L314.7,211.4 L312.3,216.2 L311.5,221.0 L307.5,223.4 L305.1,227.4 L303.5,233.7 L304.3,236.1 M307.2,238.8 L309.9,233.7 L312.3,228.2 L316.3,225.0 L318.7,225.0 L319.5,221.0 L321.1,216.2 L323.5,212.2 L326.7,210.6 M329.0,209.8 L327.5,213.8 L325.9,217.8 L324.3,222.6 L322.7,225.8 L321.1,227.4 L320.3,231.4 L318.7,236.9 L318.4,240.1 L318.4,244.9 L317.1,249.7 L316.0,253.0 L314.0,261.0 L313.0,271.0 L312.0,281.0 L312.0,291.0 L313.0,301.0 L315.0,309.0 L317.4,317.0 L318.0,325.0 L319.0,333.0 L322.0,341.0 L327.0,347.0 L329.0,351.0 L337.0,350.0 L345.0,346.0 L349.0,341.0 L353.0,335.0 L354.6,329.0 L355.4,325.0 L358.6,325.0 L359.0,319.0 L359.4,311.0 L360.0,303.0 L358.6,295.0 L356.0,287.0 L353.0,281.0 L350.0,275.0 L347.0,267.0 L348.0,258.0 L346.0,252.0 L348.2,249.7 L349.8,246.5 L350.9,238.5 L351.4,233.7 L353.4,225.0 L353.7,219.4 L356.9,216.2 L360.1,214.6 L362.5,212.2 L364.1,209.0 L365.7,205.9 L366.5,209.8 L365.7,214.6 L366.2,219.4 L368.1,222.6 L369.7,221.0 L371.3,216.2 L370.5,211.4 L369.7,206.7 L371.3,201.9 L374.5,198.7 L379.2,197.1 L382.4,195.5 L377.6,192.3 L376.9,187.5 L378.4,183.5 L380.8,181.2 L384.3,178.8 M325.9,182.7 L327.0,185.1 L327.5,189.9 L329.8,186.7 L332.2,183.5 L333.8,185.9 L334.6,189.9 L336.2,193.1 L337.8,189.1 L338.6,183.5 L342.6,180.4 L345.0,178.0 L349.0,177.2 L353.7,176.4 L356.9,174.8 L361.7,171.6 L366.5,170.8 L372.9,171.6 L377.6,174.0 L381.6,176.4 L384.3,178.0 L385.0,173.0 L385.5,169.5 L388.0,170.5 L390.0,171.5 L394.0,170.8 L400.0,170.5 L405.0,170.0 L407.5,168.5 L409.5,167.0 M363.3,184.0 L364.9,183.5 L366.2,189.1 L364.1,191.0 L362.5,189.9Z M384.3,178.8 L387.0,181.0 L391.0,183.0 L395.0,183.5 L398.5,184.0 L401.0,186.5 L403.0,188.5 L407.0,189.0 L411.0,190.5 L415.0,192.0 L419.0,193.0 L422.0,194.5 L424.0,198.0 L427.0,204.0 L423.0,205.0 L425.0,210.0 L428.0,215.0 L429.0,224.0 L429.4,231.0 L426.0,234.0 L424.0,240.0 L420.0,245.0 L416.6,247.0 L416.0,253.0 L417.0,258.0 L423.0,260.0 L426.0,260.6 L428.0,255.0 L429.4,248.0 L431.0,244.0 L437.0,240.0 L442.0,239.0 L447.0,241.0 L451.0,245.0 L454.0,255.0 L457.0,265.0 L460.0,275.0 L461.0,280.0 M467.0,188.0 L478.0,187.0 L479.0,192.0 L483.0,196.0 L487.0,197.0 L486.0,203.0 L489.0,204.0 L492.0,209.0 L496.0,204.0 L499.0,206.0 L504.0,209.0 L513.5,210.0 M467.0,188.0 L472.0,193.0 L477.0,198.0 L480.0,204.0 L482.0,210.0 L481.0,216.0 L477.0,222.0 L475.0,228.0 L474.0,234.0 L476.0,241.0 L478.0,251.0 L478.6,258.0 L476.0,265.0 L471.0,271.0 L465.0,276.0 L461.0,280.0 L460.8,284.0 L460.8,290.0 L458.8,293.9 M457.8,293.9 L464.7,297.8 L464.7,302.8 L457.8,304.8 L449.8,305.4 L451.0,300.0 L454.0,296.0Z M449.8,305.4 L447.0,313.0 L446.8,315.8 M513.5,284.3 L507.6,283.5 L499.6,284.3 L492.6,287.0 L487.6,291.0 L483.7,297.0 L479.7,302.0 L474.7,306.0 L469.7,310.0 L465.7,314.0 L465.3,319.4 L462.0,316.0 L458.8,316.8 L453.8,318.8 L448.8,317.8 L446.8,315.8 M446.8,315.8 L444.8,321.8 L441.8,326.7 L440.8,330.7 L445.8,332.7 L450.8,333.7 L453.8,336.7 L457.8,335.3 L461.8,335.7 L465.7,337.7 L469.7,339.3 L475.7,336.7 L483.7,336.7 L487.6,334.7 L491.6,330.7 L493.2,327.7 L495.6,324.7 L501.6,319.8 L507.6,314.8 L513.5,311.4 M329.0,352.0 L332.0,385.0 L335.4,422.5 M349.0,341.4 L403.0,334.4 L441.0,329.4 M403.0,334.4 L408.0,375.0 L413.4,419.0 L414.0,422.5 M503.5,417.0 L503.5,422.5 M453.0,336.5 L457.0,334.5 L459.0,336.5 L461.0,334.0 L462.5,336.5 L457.0,338.5 L453.0,339.0 M479.5,301.2 L480.7,302.2 L479.7,303.0 M418.0,169.5 L419.5,168.3 L421.0,169.5 L419.5,170.8Z M423.2,169.6 L424.4,168.6 L425.6,169.6 L424.4,170.6Z M461.0,156.0 L462.0,153.5 L464.0,155.5 L462.5,157.0 L464.5,158.5 L462.0,159.5 M474.0,157.2 L475.5,156.2 L476.3,158.0 L474.8,159.0Z M294.0,130.5 L295.5,128.5 M286.5,141.0 L287.5,143.5 L285.5,146.0"/>
<circle cx="769.4" cy="97.6" r="4.05" fill="none" stroke="#111" stroke-width="1.0"/>
<circle cx="804.0" cy="114.0" r="4.05" fill="none" stroke="#111" stroke-width="1.0"/>
<circle cx="715.0" cy="120.6" r="4.05" fill="none" stroke="#111" stroke-width="1.0"/>
<circle cx="668.6" cy="158.0" r="4.05" fill="none" stroke="#111" stroke-width="1.0"/>
<circle cx="694.4" cy="161.0" r="4.05" fill="none" stroke="#111" stroke-width="1.0"/>
<circle cx="739.0" cy="177.6" r="4.05" fill="none" stroke="#111" stroke-width="1.0"/>
<circle cx="749.0" cy="184.6" r="4.05" fill="none" stroke="#111" stroke-width="1.0"/>
<circle cx="780.4" cy="163.4" r="4.05" fill="none" stroke="#111" stroke-width="1.0"/>
<circle cx="791.4" cy="158.6" r="4.05" fill="none" stroke="#111" stroke-width="1.0"/>
<circle cx="828.6" cy="165.0" r="4.05" fill="none" stroke="#111" stroke-width="1.0"/>
<circle cx="856.0" cy="184.4" r="4.05" fill="none" stroke="#111" stroke-width="1.0"/>
<circle cx="740.0" cy="210.6" r="4.05" fill="none" stroke="#111" stroke-width="1.0"/>
<circle cx="764.6" cy="215.4" r="4.05" fill="none" stroke="#111" stroke-width="1.0"/>
<circle cx="753.0" cy="223.5" r="4.05" fill="none" stroke="#111" stroke-width="1.0"/>
<circle cx="765.0" cy="225.0" r="4.05" fill="none" stroke="#111" stroke-width="1.0"/>
<circle cx="776.4" cy="223.5" r="4.05" fill="none" stroke="#111" stroke-width="1.0"/>
<circle cx="833.6" cy="219.0" r="4.05" fill="none" stroke="#111" stroke-width="1.0"/>
<circle cx="951.0" cy="165.0" r="4.05" fill="none" stroke="#111" stroke-width="1.0"/>
<circle cx="879.4" cy="201.0" r="4.05" fill="none" stroke="#111" stroke-width="1.0"/>
<circle cx="928.6" cy="209.0" r="4.05" fill="none" stroke="#111" stroke-width="1.0"/>
<circle cx="661.4" cy="237.0" r="4.05" fill="none" stroke="#111" stroke-width="1.0"/>
<circle cx="670.0" cy="258.4" r="4.05" fill="none" stroke="#111" stroke-width="1.0"/>
<circle cx="696.4" cy="254.6" r="4.05" fill="none" stroke="#111" stroke-width="1.0"/>
<circle cx="670.6" cy="287.6" r="4.05" fill="none" stroke="#111" stroke-width="1.0"/>
<circle cx="639.4" cy="320.6" r="4.05" fill="none" stroke="#111" stroke-width="1.0"/>
<circle cx="667.4" cy="318.6" r="4.05" fill="none" stroke="#111" stroke-width="1.0"/>
<circle cx="727.6" cy="305.0" r="4.05" fill="none" stroke="#111" stroke-width="1.5"/>
<circle cx="788.0" cy="317.4" r="4.05" fill="none" stroke="#111" stroke-width="1.5"/>
<circle cx="745.6" cy="265.4" r="4.05" fill="none" stroke="#111" stroke-width="1.0"/>
<circle cx="771.4" cy="251.0" r="4.05" fill="none" stroke="#111" stroke-width="1.0"/>
<circle cx="787.4" cy="269.0" r="4.05" fill="none" stroke="#111" stroke-width="1.0"/>
<circle cx="757.4" cy="239.4" r="4.05" fill="none" stroke="#111" stroke-width="1.0"/>
<circle cx="764.4" cy="232.6" r="4.05" fill="none" stroke="#111" stroke-width="1.0"/>
<circle cx="813.4" cy="237.6" r="4.05" fill="none" stroke="#111" stroke-width="1.0"/>
<circle cx="857.0" cy="236.6" r="4.05" fill="none" stroke="#111" stroke-width="1.0"/>
<circle cx="820.4" cy="275.4" r="4.05" fill="none" stroke="#111" stroke-width="1.0"/>
<circle cx="863.0" cy="285.6" r="4.05" fill="none" stroke="#111" stroke-width="1.0"/>
<circle cx="907.0" cy="239.0" r="4.05" fill="none" stroke="#111" stroke-width="1.0"/>
<circle cx="918.4" cy="241.0" r="4.05" fill="none" stroke="#111" stroke-width="1.0"/>
<circle cx="895.0" cy="248.6" r="4.05" fill="none" stroke="#111" stroke-width="1.0"/>
<circle cx="916.4" cy="253.0" r="4.05" fill="none" stroke="#111" stroke-width="1.0"/>
<circle cx="913.0" cy="266.4" r="4.05" fill="none" stroke="#111" stroke-width="1.0"/>
<circle cx="916.0" cy="271.4" r="4.05" fill="none" stroke="#111" stroke-width="1.0"/>
<circle cx="913.6" cy="278.4" r="4.05" fill="none" stroke="#111" stroke-width="1.0"/>
<circle cx="911.4" cy="285.0" r="4.05" fill="none" stroke="#111" stroke-width="1.0"/>
<circle cx="912.4" cy="290.0" r="4.05" fill="none" stroke="#111" stroke-width="1.0"/>
<circle cx="912.4" cy="294.0" r="4.05" fill="none" stroke="#111" stroke-width="1.0"/>
<circle cx="912.0" cy="298.0" r="4.05" fill="none" stroke="#111" stroke-width="1.0"/>
<circle cx="896.4" cy="273.0" r="4.05" fill="none" stroke="#111" stroke-width="1.0"/>
<circle cx="891.6" cy="282.0" r="4.05" fill="none" stroke="#111" stroke-width="1.0"/>
<circle cx="879.0" cy="289.0" r="4.05" fill="none" stroke="#111" stroke-width="1.0"/>
<circle cx="873.0" cy="298.0" r="4.05" fill="none" stroke="#111" stroke-width="1.0"/>
<circle cx="887.6" cy="300.4" r="4.05" fill="none" stroke="#111" stroke-width="1.0"/>
<circle cx="904.4" cy="298.0" r="4.05" fill="none" stroke="#111" stroke-width="1.0"/>
<circle cx="916.6" cy="306.4" r="4.05" fill="none" stroke="#111" stroke-width="1.0"/>
<circle cx="898.4" cy="312.6" r="4.05" fill="none" stroke="#111" stroke-width="1.0"/>
<circle cx="915.0" cy="313.0" r="4.05" fill="none" stroke="#111" stroke-width="1.0"/>
<circle cx="917.4" cy="317.6" r="4.05" fill="none" stroke="#111" stroke-width="1.0"/>
<circle cx="883.0" cy="319.5" r="4.05" fill="none" stroke="#111" stroke-width="1.0"/>
<circle cx="884.5" cy="326.8" r="4.05" fill="none" stroke="#111" stroke-width="1.0"/>
<circle cx="954.0" cy="230.0" r="4.05" fill="none" stroke="#111" stroke-width="1.0"/>
<circle cx="952.4" cy="242.6" r="4.05" fill="none" stroke="#111" stroke-width="1.0"/>
<circle cx="952.4" cy="256.4" r="4.05" fill="none" stroke="#111" stroke-width="1.0"/>
<circle cx="966.4" cy="245.6" r="4.05" fill="none" stroke="#111" stroke-width="1.0"/>
<circle cx="988.4" cy="237.6" r="4.05" fill="none" stroke="#111" stroke-width="1.0"/>
<circle cx="955.0" cy="282.4" r="4.05" fill="none" stroke="#111" stroke-width="1.0"/>
<circle cx="979.6" cy="283.4" r="4.05" fill="none" stroke="#111" stroke-width="1.0"/>
<circle cx="973.6" cy="291.4" r="4.05" fill="none" stroke="#111" stroke-width="1.0"/>
<circle cx="969.0" cy="295.6" r="4.05" fill="none" stroke="#111" stroke-width="1.0"/>
<circle cx="961.6" cy="301.4" r="4.05" fill="none" stroke="#111" stroke-width="1.0"/>
<circle cx="980.5" cy="318.2" r="4.05" fill="none" stroke="#111" stroke-width="1.0"/>
<circle cx="959.8" cy="324.0" r="4.05" fill="none" stroke="#111" stroke-width="1.0"/>
<circle cx="1009.0" cy="293.6" r="4.05" fill="none" stroke="#111" stroke-width="1.0"/>
<circle cx="1004.6" cy="296.0" r="4.05" fill="none" stroke="#111" stroke-width="1.0"/>
<circle cx="1024.4" cy="306.4" r="4.05" fill="none" stroke="#111" stroke-width="1.0"/>
<circle cx="1033.6" cy="312.2" r="4.05" fill="none" stroke="#111" stroke-width="1.0"/>
<circle cx="1025.6" cy="322.6" r="4.05" fill="none" stroke="#111" stroke-width="1.0"/>
<circle cx="1032.6" cy="258.4" r="4.05" fill="none" stroke="#111" stroke-width="1.0"/>
<circle cx="1050.4" cy="246.6" r="4.05" fill="none" stroke="#111" stroke-width="1.0"/>
<circle cx="1032.6" cy="275.6" r="4.05" fill="none" stroke="#111" stroke-width="1.0"/>
<circle cx="1027.4" cy="281.4" r="4.05" fill="none" stroke="#111" stroke-width="1.0"/>
<circle cx="1060.5" cy="279.8" r="4.05" fill="none" stroke="#111" stroke-width="1.0"/>
<circle cx="1052.7" cy="289.8" r="4.05" fill="none" stroke="#111" stroke-width="1.0"/>
<circle cx="1043.7" cy="301.5" r="4.05" fill="none" stroke="#111" stroke-width="1.0"/>
<circle cx="1048.5" cy="300.2" r="4.05" fill="none" stroke="#111" stroke-width="1.0"/>
<circle cx="1044.3" cy="310.9" r="4.05" fill="none" stroke="#111" stroke-width="1.0"/>
<circle cx="679.4" cy="328.4" r="4.05" fill="none" stroke="#111" stroke-width="1.5"/>
<circle cx="694.6" cy="356.0" r="4.05" fill="none" stroke="#111" stroke-width="1.5"/>
<circle cx="694.4" cy="375.0" r="4.05" fill="none" stroke="#111" stroke-width="1.0"/>
<circle cx="693.6" cy="378.6" r="4.05" fill="none" stroke="#111" stroke-width="1.0"/>
<circle cx="674.4" cy="389.0" r="4.05" fill="none" stroke="#111" stroke-width="1.0"/>
<circle cx="720.0" cy="389.0" r="4.05" fill="none" stroke="#111" stroke-width="1.5"/>
<circle cx="756.4" cy="354.0" r="4.05" fill="none" stroke="#111" stroke-width="1.5"/>
<circle cx="758.4" cy="363.0" r="4.05" fill="none" stroke="#111" stroke-width="1.5"/>
<circle cx="816.0" cy="334.0" r="4.05" fill="none" stroke="#111" stroke-width="1.5"/>
<circle cx="812.0" cy="346.0" r="4.05" fill="none" stroke="#111" stroke-width="1.5"/>
<circle cx="858.0" cy="330.6" r="4.05" fill="none" stroke="#111" stroke-width="1.0"/>
<circle cx="854.4" cy="347.0" r="4.05" fill="none" stroke="#111" stroke-width="1.5"/>
<circle cx="845.4" cy="354.6" r="4.05" fill="none" stroke="#111" stroke-width="1.5"/>
<circle cx="844.6" cy="361.6" r="4.05" fill="none" stroke="#111" stroke-width="1.0"/>
<circle cx="806.0" cy="396.0" r="4.05" fill="none" stroke="#111" stroke-width="1.5"/>
<circle cx="626.6" cy="391.0" r="4.05" fill="none" stroke="#111" stroke-width="1.0"/>
<circle cx="826.5" cy="425.4" r="4.05" fill="none" stroke="#111" stroke-width="1.0"/>
<circle cx="906.5" cy="328.8" r="4.05" fill="none" stroke="#111" stroke-width="1.0"/>
<circle cx="906.0" cy="336.5" r="4.05" fill="none" stroke="#111" stroke-width="1.0"/>
<circle cx="915.5" cy="316.0" r="4.05" fill="none" stroke="#111" stroke-width="1.0"/>
<circle cx="918.0" cy="331.5" r="4.05" fill="none" stroke="#111" stroke-width="1.0"/>
<circle cx="923.0" cy="333.5" r="4.05" fill="none" stroke="#111" stroke-width="1.0"/>
<circle cx="919.5" cy="337.5" r="4.05" fill="none" stroke="#111" stroke-width="1.0"/>
<circle cx="913.0" cy="344.0" r="4.05" fill="none" stroke="#111" stroke-width="1.0"/>
<circle cx="915.5" cy="349.5" r="4.05" fill="none" stroke="#111" stroke-width="1.0"/>
<circle cx="921.5" cy="342.0" r="4.05" fill="none" stroke="#111" stroke-width="1.0"/>
<circle cx="922.5" cy="348.0" r="4.05" fill="none" stroke="#111" stroke-width="1.0"/>
<circle cx="928.0" cy="344.5" r="4.05" fill="none" stroke="#111" stroke-width="1.0"/>
<circle cx="929.5" cy="349.5" r="4.05" fill="none" stroke="#111" stroke-width="1.0"/>
<circle cx="934.0" cy="350.0" r="4.05" fill="none" stroke="#111" stroke-width="1.0"/>
<circle cx="937.5" cy="348.5" r="4.05" fill="none" stroke="#111" stroke-width="1.0"/>
<circle cx="942.5" cy="352.8" r="4.05" fill="none" stroke="#111" stroke-width="1.0"/>
<circle cx="945.0" cy="344.0" r="4.05" fill="none" stroke="#111" stroke-width="1.0"/>
<circle cx="952.0" cy="347.0" r="4.05" fill="none" stroke="#111" stroke-width="1.0"/>
<circle cx="960.8" cy="349.0" r="4.05" fill="none" stroke="#111" stroke-width="1.0"/>
<circle cx="964.5" cy="342.5" r="4.05" fill="none" stroke="#111" stroke-width="1.0"/>
<circle cx="966.5" cy="340.0" r="4.05" fill="none" stroke="#111" stroke-width="1.0"/>
<circle cx="969.5" cy="334.0" r="4.05" fill="none" stroke="#111" stroke-width="1.0"/>
<circle cx="975.5" cy="340.8" r="4.05" fill="none" stroke="#111" stroke-width="1.0"/>
<circle cx="911.6" cy="367.2" r="4.05" fill="none" stroke="#111" stroke-width="1.0"/>
<circle cx="873.8" cy="388.7" r="4.05" fill="none" stroke="#111" stroke-width="1.0"/>
<circle cx="873.8" cy="391.8" r="4.05" fill="none" stroke="#111" stroke-width="1.0"/>
<circle cx="891.4" cy="396.6" r="4.05" fill="none" stroke="#111" stroke-width="1.0"/>
<circle cx="915.1" cy="404.7" r="4.05" fill="none" stroke="#111" stroke-width="1.0"/>
<circle cx="910.6" cy="412.8" r="4.05" fill="none" stroke="#111" stroke-width="1.0"/>
<circle cx="895.5" cy="420.7" r="4.05" fill="none" stroke="#111" stroke-width="1.0"/>
<circle cx="875.0" cy="425.4" r="4.05" fill="none" stroke="#111" stroke-width="1.0"/>
<circle cx="984.0" cy="374.6" r="4.05" fill="none" stroke="#111" stroke-width="1.0"/>
<circle cx="960.3" cy="388.4" r="4.05" fill="none" stroke="#111" stroke-width="1.0"/>
<circle cx="972.9" cy="389.1" r="4.05" fill="none" stroke="#111" stroke-width="1.0"/>
<circle cx="998.4" cy="362.5" r="4.05" fill="none" stroke="#111" stroke-width="1.0"/>
<circle cx="999.6" cy="356.6" r="4.05" fill="none" stroke="#111" stroke-width="1.0"/>
<circle cx="997.8" cy="392.7" r="4.05" fill="none" stroke="#111" stroke-width="1.0"/>
<circle cx="987.5" cy="401.0" r="4.05" fill="none" stroke="#111" stroke-width="1.0"/>
<circle cx="977.9" cy="404.3" r="4.05" fill="none" stroke="#111" stroke-width="1.0"/>
<circle cx="966.8" cy="408.5" r="4.05" fill="none" stroke="#111" stroke-width="1.0"/>
<circle cx="978.3" cy="412.1" r="4.05" fill="none" stroke="#111" stroke-width="1.0"/>
<circle cx="975.0" cy="415.5" r="4.05" fill="none" stroke="#111" stroke-width="1.0"/>
<circle cx="971.6" cy="417.5" r="4.05" fill="none" stroke="#111" stroke-width="1.0"/>
<circle cx="967.5" cy="417.5" r="4.05" fill="none" stroke="#111" stroke-width="1.0"/>
<circle cx="983.7" cy="420.3" r="4.05" fill="none" stroke="#111" stroke-width="1.0"/>
<circle cx="1034.7" cy="341.2" r="4.05" fill="none" stroke="#111" stroke-width="1.0"/>
<circle cx="1038.2" cy="345.3" r="4.05" fill="none" stroke="#111" stroke-width="1.0"/>
<circle cx="1086.7" cy="349.5" r="4.05" fill="none" stroke="#111" stroke-width="1.0"/>
<circle cx="1098.1" cy="361.4" r="4.05" fill="none" stroke="#111" stroke-width="1.0"/>
<circle cx="1029.2" cy="370.2" r="4.05" fill="none" stroke="#111" stroke-width="1.0"/>
<circle cx="1059.2" cy="381.7" r="4.05" fill="none" stroke="#111" stroke-width="1.0"/>
<circle cx="1070.2" cy="382.6" r="4.05" fill="none" stroke="#111" stroke-width="1.0"/>
<circle cx="1063.6" cy="391.3" r="4.05" fill="none" stroke="#111" stroke-width="1.0"/>
<circle cx="1068.3" cy="390.8" r="4.05" fill="none" stroke="#111" stroke-width="1.0"/>
<circle cx="1070.1" cy="396.1" r="4.05" fill="none" stroke="#111" stroke-width="1.0"/>
<circle cx="1031.2" cy="396.4" r="4.05" fill="none" stroke="#111" stroke-width="1.0"/>
<circle cx="1040.5" cy="398.3" r="4.05" fill="none" stroke="#111" stroke-width="1.0"/>
<circle cx="1050.4" cy="405.2" r="4.05" fill="none" stroke="#111" stroke-width="1.0"/>
<circle cx="1035.9" cy="404.8" r="4.05" fill="none" stroke="#111" stroke-width="1.0"/>
<circle cx="1031.7" cy="408.0" r="4.05" fill="none" stroke="#111" stroke-width="1.0"/>
<circle cx="1038.2" cy="411.8" r="4.05" fill="none" stroke="#111" stroke-width="1.0"/>
<circle cx="1015.1" cy="408.3" r="4.05" fill="none" stroke="#111" stroke-width="1.0"/>
<circle cx="1016.6" cy="419.7" r="4.05" fill="none" stroke="#111" stroke-width="1.0"/>
<circle cx="1025.9" cy="418.8" r="4.05" fill="none" stroke="#111" stroke-width="1.0"/>
<circle cx="1032.0" cy="421.0" r="4.05" fill="none" stroke="#111" stroke-width="1.0"/>
<circle cx="1043.4" cy="419.7" r="4.05" fill="none" stroke="#111" stroke-width="1.0"/>
<circle cx="1108.3" cy="413.6" r="4.05" fill="none" stroke="#111" stroke-width="1.0"/>
<circle cx="1045.4" cy="332.4" r="4.05" fill="none" stroke="#111" stroke-width="1.0"/>
<circle cx="1038.2" cy="334.6" r="4.05" fill="none" stroke="#111" stroke-width="1.0"/>
<circle cx="1079.8" cy="336.7" r="4.05" fill="none" stroke="#111" stroke-width="1.0"/>
<circle cx="1086.7" cy="337.6" r="4.05" fill="none" stroke="#111" stroke-width="1.0"/>
<circle cx="1091.0" cy="331.8" r="4.05" fill="none" stroke="#111" stroke-width="1.0"/>
<circle cx="1093.3" cy="328.7" r="4.05" fill="none" stroke="#111" stroke-width="1.0"/>
<circle cx="769.4" cy="97.6" r="3.5" fill="#74d080"/>
<circle cx="804.0" cy="114.0" r="3.5" fill="#a8dcb0"/>
<circle cx="715.0" cy="120.6" r="3.5" fill="#74d080"/>
<circle cx="668.6" cy="158.0" r="3.5" fill="#109878"/>
<circle cx="694.4" cy="161.0" r="3.5" fill="#109090"/>
<circle cx="739.0" cy="177.6" r="3.5" fill="#40b878"/>
<circle cx="749.0" cy="184.6" r="3.5" fill="#f0e8a0"/>
<circle cx="780.4" cy="163.4" r="3.5" fill="#f0e8a0"/>
<circle cx="791.4" cy="158.6" r="3.5" fill="#e6e6e6"/>
<circle cx="828.6" cy="165.0" r="3.5" fill="#74d080"/>
<circle cx="856.0" cy="184.4" r="3.5" fill="#74d080"/>
<circle cx="740.0" cy="210.6" r="3.5" fill="#109878"/>
<circle cx="764.6" cy="215.4" r="3.5" fill="#74d080"/>
<circle cx="753.0" cy="223.5" r="3.5" fill="#40b878"/>
<circle cx="765.0" cy="225.0" r="3.5" fill="#74d080"/>
<circle cx="776.4" cy="223.5" r="3.5" fill="#a8dcb0"/>
<circle cx="833.6" cy="219.0" r="3.5" fill="#a8dcb0"/>
<circle cx="951.0" cy="165.0" r="3.5" fill="#cce4cc"/>
<circle cx="879.4" cy="201.0" r="3.5" fill="#cce4cc"/>
<circle cx="928.6" cy="209.0" r="3.5" fill="#f0e060"/>
<circle cx="661.4" cy="237.0" r="3.5" fill="#e6e6e6"/>
<circle cx="670.0" cy="258.4" r="3.5" fill="#40b878"/>
<circle cx="696.4" cy="254.6" r="3.5" fill="#1050d8"/>
<circle cx="670.6" cy="287.6" r="3.5" fill="#74d080"/>
<circle cx="639.4" cy="320.6" r="3.5" fill="#1080a0"/>
<circle cx="667.4" cy="318.6" r="3.5" fill="#74d080"/>
<circle cx="727.6" cy="305.0" r="3.5" fill="#109878"/>
<circle cx="788.0" cy="317.4" r="3.5" fill="#e6e6e6"/>
<circle cx="745.6" cy="265.4" r="3.5" fill="#a8dcb0"/>
<circle cx="771.4" cy="251.0" r="3.5" fill="#74d080"/>
<circle cx="787.4" cy="269.0" r="3.5" fill="#e06830"/>
<circle cx="757.4" cy="239.4" r="3.5" fill="#cce4cc"/>
<circle cx="764.4" cy="232.6" r="3.5" fill="#a8dcb0"/>
<circle cx="813.4" cy="237.6" r="3.5" fill="#e6e6e6"/>
<circle cx="857.0" cy="236.6" r="3.5" fill="#a8dcb0"/>
<circle cx="820.4" cy="275.4" r="3.5" fill="#cce4cc"/>
<circle cx="863.0" cy="285.6" r="3.5" fill="#a8dcb0"/>
<circle cx="907.0" cy="239.0" r="3.5" fill="#e6e6e6"/>
<circle cx="918.4" cy="241.0" r="3.5" fill="#a8dcb0"/>
<circle cx="895.0" cy="248.6" r="3.5" fill="#a8dcb0"/>
<circle cx="916.4" cy="253.0" r="3.5" fill="#f0ecc0"/>
<circle cx="913.0" cy="266.4" r="3.5" fill="#e6e6e6"/>
<circle cx="916.0" cy="271.4" r="3.5" fill="#e6e6e6"/>
<circle cx="913.6" cy="278.4" r="3.5" fill="#e6e6e6"/>
<circle cx="911.4" cy="285.0" r="3.5" fill="#e6e6e6"/>
<circle cx="912.4" cy="290.0" r="3.5" fill="#e6e6e6"/>
<circle cx="912.4" cy="294.0" r="3.5" fill="#e6e6e6"/>
<circle cx="912.0" cy="298.0" r="3.5" fill="#f0a814"/>
<circle cx="896.4" cy="273.0" r="3.5" fill="#e6e6e6"/>
<circle cx="891.6" cy="282.0" r="3.5" fill="#cce4cc"/>
<circle cx="879.0" cy="289.0" r="3.5" fill="#a8dcb0"/>
<circle cx="873.0" cy="298.0" r="3.5" fill="#e6e6e6"/>
<circle cx="887.6" cy="300.4" r="3.5" fill="#f0e060"/>
<circle cx="904.4" cy="298.0" r="3.5" fill="#f0e060"/>
<circle cx="916.6" cy="306.4" r="3.5" fill="#f0a814"/>
<circle cx="898.4" cy="312.6" r="3.5" fill="#f0a814"/>
<circle cx="915.0" cy="313.0" r="3.5" fill="#f0d838"/>
<circle cx="917.4" cy="317.6" r="3.5" fill="#f0c028"/>
<circle cx="883.0" cy="319.5" r="3.5" fill="#f0c028"/>
<circle cx="884.5" cy="326.8" r="3.5" fill="#e8900c"/>
<circle cx="954.0" cy="230.0" r="3.5" fill="#e6e6e6"/>
<circle cx="952.4" cy="242.6" r="3.5" fill="#e6e6e6"/>
<circle cx="952.4" cy="256.4" r="3.5" fill="#e6e6e6"/>
<circle cx="966.4" cy="245.6" r="3.5" fill="#a8dcb0"/>
<circle cx="988.4" cy="237.6" r="3.5" fill="#f0e8a0"/>
<circle cx="955.0" cy="282.4" r="3.5" fill="#f0ecc0"/>
<circle cx="979.6" cy="283.4" r="3.5" fill="#a8dcb0"/>
<circle cx="973.6" cy="291.4" r="3.5" fill="#f0a814"/>
<circle cx="969.0" cy="295.6" r="3.5" fill="#f0e060"/>
<circle cx="961.6" cy="301.4" r="3.5" fill="#f0e8a0"/>
<circle cx="980.5" cy="318.2" r="3.5" fill="#f0e8a0"/>
<circle cx="959.8" cy="324.0" r="3.5" fill="#f0c028"/>
<circle cx="1009.0" cy="293.6" r="3.5" fill="#f0e060"/>
<circle cx="1004.6" cy="296.0" r="3.5" fill="#f0e060"/>
<circle cx="1024.4" cy="306.4" r="3.5" fill="#f0d838"/>
<circle cx="1033.6" cy="312.2" r="3.5" fill="#f0c028"/>
<circle cx="1025.6" cy="322.6" r="3.5" fill="#f0e8a0"/>
<circle cx="1032.6" cy="258.4" r="3.5" fill="#f0a814"/>
<circle cx="1050.4" cy="246.6" r="3.5" fill="#f0ecc0"/>
<circle cx="1032.6" cy="275.6" r="3.5" fill="#e8900c"/>
<circle cx="1027.4" cy="281.4" r="3.5" fill="#f0a814"/>
<circle cx="1060.5" cy="279.8" r="3.5" fill="#f0d838"/>
<circle cx="1052.7" cy="289.8" r="3.5" fill="#f0c028"/>
<circle cx="1043.7" cy="301.5" r="3.5" fill="#f0c028"/>
<circle cx="1048.5" cy="300.2" r="3.5" fill="#f0d838"/>
<circle cx="1044.3" cy="310.9" r="3.5" fill="#e8900c"/>
<circle cx="679.4" cy="328.4" r="3.5" fill="#40b878"/>
<circle cx="694.6" cy="356.0" r="3.5" fill="#40b878"/>
<circle cx="694.4" cy="375.0" r="3.5" fill="#cce4cc"/>
<circle cx="693.6" cy="378.6" r="3.5" fill="#cce4cc"/>
<circle cx="674.4" cy="389.0" r="3.5" fill="#e6e6e6"/>
<circle cx="720.0" cy="389.0" r="3.5" fill="#40b878"/>
<circle cx="756.4" cy="354.0" r="3.5" fill="#a8dcb0"/>
<circle cx="758.4" cy="363.0" r="3.5" fill="#e8900c"/>
<circle cx="816.0" cy="334.0" r="3.5" fill="#a8dcb0"/>
<circle cx="812.0" cy="346.0" r="3.5" fill="#a8dcb0"/>
<circle cx="858.0" cy="330.6" r="3.5" fill="#f0ecc0"/>
<circle cx="854.4" cy="347.0" r="3.5" fill="#cce4cc"/>
<circle cx="845.4" cy="354.6" r="3.5" fill="#cce4cc"/>
<circle cx="844.6" cy="361.6" r="3.5" fill="#f0e8a0"/>
<circle cx="806.0" cy="396.0" r="3.5" fill="#74d080"/>
<circle cx="626.6" cy="391.0" r="3.5" fill="#e6e6e6"/>
<circle cx="826.5" cy="425.4" r="3.5" fill="#e8900c"/>
<circle cx="906.5" cy="328.8" r="3.5" fill="#e07808"/>
<circle cx="906.0" cy="336.5" r="3.5" fill="#f0a814"/>
<circle cx="915.5" cy="316.0" r="3.5" fill="#f0d838"/>
<circle cx="918.0" cy="331.5" r="3.5" fill="#e8900c"/>
<circle cx="923.0" cy="333.5" r="3.5" fill="#f0c028"/>
<circle cx="919.5" cy="337.5" r="3.5" fill="#f0d838"/>
<circle cx="913.0" cy="344.0" r="3.5" fill="#e06830"/>
<circle cx="915.5" cy="349.5" r="3.5" fill="#e07808"/>
<circle cx="921.5" cy="342.0" r="3.5" fill="#e8900c"/>
<circle cx="922.5" cy="348.0" r="3.5" fill="#e8900c"/>
<circle cx="928.0" cy="344.5" r="3.5" fill="#f0e060"/>
<circle cx="929.5" cy="349.5" r="3.5" fill="#f0d838"/>
<circle cx="934.0" cy="350.0" r="3.5" fill="#f0a814"/>
<circle cx="937.5" cy="348.5" r="3.5" fill="#f0d838"/>
<circle cx="942.5" cy="352.8" r="3.5" fill="#f0c028"/>
<circle cx="945.0" cy="344.0" r="3.5" fill="#f0a814"/>
<circle cx="952.0" cy="347.0" r="3.5" fill="#e8900c"/>
<circle cx="960.8" cy="349.0" r="3.5" fill="#e8900c"/>
<circle cx="964.5" cy="342.5" r="3.5" fill="#e8900c"/>
<circle cx="966.5" cy="340.0" r="3.5" fill="#e8900c"/>
<circle cx="969.5" cy="334.0" r="3.5" fill="#e8900c"/>
<circle cx="975.5" cy="340.8" r="3.5" fill="#e07808"/>
<circle cx="911.6" cy="367.2" r="3.5" fill="#e8900c"/>
<circle cx="873.8" cy="388.7" r="3.5" fill="#f0c028"/>
<circle cx="873.8" cy="391.8" r="3.5" fill="#f0c028"/>
<circle cx="891.4" cy="396.6" r="3.5" fill="#f0d838"/>
<circle cx="915.1" cy="404.7" r="3.5" fill="#e07808"/>
<circle cx="910.6" cy="412.8" r="3.5" fill="#f0a814"/>
<circle cx="895.5" cy="420.7" r="3.5" fill="#f0d838"/>
<circle cx="875.0" cy="425.4" r="3.5" fill="#e8900c"/>
<circle cx="984.0" cy="374.6" r="3.5" fill="#e07808"/>
<circle cx="960.3" cy="388.4" r="3.5" fill="#e8900c"/>
<circle cx="972.9" cy="389.1" r="3.5" fill="#e8900c"/>
<circle cx="998.4" cy="362.5" r="3.5" fill="#e07808"/>
<circle cx="999.6" cy="356.6" r="3.5" fill="#e8900c"/>
<circle cx="997.8" cy="392.7" r="3.5" fill="#e8900c"/>
<circle cx="987.5" cy="401.0" r="3.5" fill="#d87070"/>
<circle cx="977.9" cy="404.3" r="3.5" fill="#e8900c"/>
<circle cx="966.8" cy="408.5" r="3.5" fill="#e8900c"/>
<circle cx="978.3" cy="412.1" r="3.5" fill="#e06830"/>
<circle cx="975.0" cy="415.5" r="3.5" fill="#e8900c"/>
<circle cx="971.6" cy="417.5" r="3.5" fill="#e8900c"/>
<circle cx="967.5" cy="417.5" r="3.5" fill="#e8900c"/>
<circle cx="983.7" cy="420.3" r="3.5" fill="#e8900c"/>
<circle cx="1034.7" cy="341.2" r="3.5" fill="#e8900c"/>
<circle cx="1038.2" cy="345.3" r="3.5" fill="#e8900c"/>
<circle cx="1086.7" cy="349.5" r="3.5" fill="#f0d838"/>
<circle cx="1098.1" cy="361.4" r="3.5" fill="#e6e6e6"/>
<circle cx="1029.2" cy="370.2" r="3.5" fill="#e8900c"/>
<circle cx="1059.2" cy="381.7" r="3.5" fill="#e8900c"/>
<circle cx="1070.2" cy="382.6" r="3.5" fill="#f0a814"/>
<circle cx="1063.6" cy="391.3" r="3.5" fill="#d87070"/>
<circle cx="1068.3" cy="390.8" r="3.5" fill="#f0a814"/>
<circle cx="1070.1" cy="396.1" r="3.5" fill="#e84060"/>
<circle cx="1031.2" cy="396.4" r="3.5" fill="#f0d838"/>
<circle cx="1040.5" cy="398.3" r="3.5" fill="#f0a814"/>
<circle cx="1050.4" cy="405.2" r="3.5" fill="#f0c028"/>
<circle cx="1035.9" cy="404.8" r="3.5" fill="#f0d838"/>
<circle cx="1031.7" cy="408.0" r="3.5" fill="#e8900c"/>
<circle cx="1038.2" cy="411.8" r="3.5" fill="#f0a814"/>
<circle cx="1015.1" cy="408.3" r="3.5" fill="#e8900c"/>
<circle cx="1016.6" cy="419.7" r="3.5" fill="#f0d838"/>
<circle cx="1025.9" cy="418.8" r="3.5" fill="#e8900c"/>
<circle cx="1032.0" cy="421.0" r="3.5" fill="#f0d838"/>
<circle cx="1043.4" cy="419.7" r="3.5" fill="#f0d838"/>
<circle cx="1108.3" cy="413.6" r="3.5" fill="#e8900c"/>
<circle cx="1045.4" cy="332.4" r="3.5" fill="#f0a814"/>
<circle cx="1038.2" cy="334.6" r="3.5" fill="#e8900c"/>
<circle cx="1079.8" cy="336.7" r="3.5" fill="#e8900c"/>
<circle cx="1086.7" cy="337.6" r="3.5" fill="#e8900c"/>
<circle cx="1091.0" cy="331.8" r="3.5" fill="#e07808"/>
<circle cx="1093.3" cy="328.7" r="3.5" fill="#f0a814"/>
</g>
<circle cx="1072.3" cy="408.3" r="2.6" fill="#000"/>
<text x="1083.4" y="412.7" font-size="12">AQS</text>
<rect x="628.5" y="28.5" width="485.0" height="394.0" fill="none" stroke="#000" stroke-width="1"/>
<line x1="645.5" y1="422.5" x2="645.5" y2="429.7" stroke="#000" stroke-width="1"/>
<text x="645.3" y="448.8" font-size="12" text-anchor="middle">-97.6</text>
<line x1="710.5" y1="422.5" x2="710.5" y2="429.7" stroke="#000" stroke-width="1"/>
<text x="710.5" y="448.8" font-size="12" text-anchor="middle">-95.6</text>
<line x1="775.5" y1="422.5" x2="775.5" y2="429.7" stroke="#000" stroke-width="1"/>
<text x="775.7" y="448.8" font-size="12" text-anchor="middle">-93.6</text>
<line x1="841.5" y1="422.5" x2="841.5" y2="429.7" stroke="#000" stroke-width="1"/>
<text x="840.9" y="448.8" font-size="12" text-anchor="middle">-91.6</text>
<line x1="906.5" y1="422.5" x2="906.5" y2="429.7" stroke="#000" stroke-width="1"/>
<text x="906.1" y="448.8" font-size="12" text-anchor="middle">-89.6</text>
<line x1="971.5" y1="422.5" x2="971.5" y2="429.7" stroke="#000" stroke-width="1"/>
<text x="971.3" y="448.8" font-size="12" text-anchor="middle">-87.6</text>
<line x1="1036.5" y1="422.5" x2="1036.5" y2="429.7" stroke="#000" stroke-width="1"/>
<text x="1036.5" y="448.8" font-size="12" text-anchor="middle">-85.6</text>
<line x1="1101.5" y1="422.5" x2="1101.5" y2="429.7" stroke="#000" stroke-width="1"/>
<text x="1101.7" y="448.8" font-size="12" text-anchor="middle">-83.6</text>
<line x1="621.3" y1="419.5" x2="628.5" y2="419.5" stroke="#000" stroke-width="1"/>
<text transform="translate(612,419.5) rotate(-90)" font-size="12" text-anchor="middle">40</text>
<line x1="621.3" y1="341.5" x2="628.5" y2="341.5" stroke="#000" stroke-width="1"/>
<text transform="translate(612,341.5) rotate(-90)" font-size="12" text-anchor="middle">42</text>
<line x1="621.3" y1="264.5" x2="628.5" y2="264.5" stroke="#000" stroke-width="1"/>
<text transform="translate(612,264.5) rotate(-90)" font-size="12" text-anchor="middle">44</text>
<line x1="621.3" y1="186.5" x2="628.5" y2="186.5" stroke="#000" stroke-width="1"/>
<text transform="translate(612,186.5) rotate(-90)" font-size="12" text-anchor="middle">46</text>
<line x1="621.3" y1="109.5" x2="628.5" y2="109.5" stroke="#000" stroke-width="1"/>
<text transform="translate(612,109.5) rotate(-90)" font-size="12" text-anchor="middle">48</text>
<line x1="621.3" y1="31.5" x2="628.5" y2="31.5" stroke="#000" stroke-width="1"/>
<text transform="translate(612,31.5) rotate(-90)" font-size="12" text-anchor="middle">50</text>
<text x="871" y="19.8" font-size="14.4" font-weight="bold" text-anchor="middle">EMBER bias: O3_8HRMAX on 05/05/2025</text>
<text x="271" y="470" font-size="12" text-anchor="middle">Domain size: 30x38 | Max Model = 55 at (20, 8)</text>
<text x="271" y="485" font-size="12" text-anchor="middle">Max Obs: 64</text>
<text x="871" y="470" font-size="12" text-anchor="middle" xml:space="preserve">Bias Summary: [ min, 25th %, 50th %, 75th %, max ]</text>
<text x="819.6" y="485" font-size="12" word-spacing="-0.3" xml:space="preserve">[ -15,   -2.6,   1.2,   9.1,   18 ]</text>
<g shape-rendering="crispEdges">
<rect x="545.5" y="48.30" width="8.0" height="6.12" fill="#ff0000"/>
<rect x="545.5" y="54.12" width="8.0" height="6.12" fill="#f81621"/>
<rect x="545.5" y="59.94" width="8.0" height="6.12" fill="#f12e45"/>
<rect x="545.5" y="65.76" width="8.0" height="6.12" fill="#ec3f5e"/>
<rect x="545.5" y="71.58" width="8.0" height="6.12" fill="#e84f76"/>
<rect x="545.5" y="77.40" width="8.0" height="6.12" fill="#dd6695"/>
<rect x="545.5" y="83.22" width="8.0" height="6.12" fill="#d56d9a"/>
<rect x="545.5" y="89.04" width="8.0" height="6.12" fill="#cf6e8d"/>
<rect x="545.5" y="94.86" width="8.0" height="6.12" fill="#cc686b"/>
<rect x="545.5" y="100.68" width="8.0" height="6.12" fill="#cc6352"/>
<rect x="545.5" y="106.50" width="8.0" height="6.12" fill="#cc603e"/>
<rect x="545.5" y="112.32" width="8.0" height="6.12" fill="#cc6031"/>
<rect x="545.5" y="118.14" width="8.0" height="6.12" fill="#ce6225"/>
<rect x="545.5" y="123.96" width="8.0" height="6.12" fill="#d06419"/>
<rect x="545.5" y="129.78" width="8.0" height="6.12" fill="#d46a10"/>
<rect x="545.5" y="135.60" width="8.0" height="6.12" fill="#d87008"/>
<rect x="545.5" y="141.41" width="8.0" height="6.12" fill="#dc7a08"/>
<rect x="545.5" y="147.23" width="8.0" height="6.12" fill="#e08408"/>
<rect x="545.5" y="153.05" width="8.0" height="6.12" fill="#e48e0c"/>
<rect x="545.5" y="158.87" width="8.0" height="6.12" fill="#e89810"/>
<rect x="545.5" y="164.69" width="8.0" height="6.12" fill="#eaa012"/>
<rect x="545.5" y="170.51" width="8.0" height="6.12" fill="#eca814"/>
<rect x="545.5" y="176.33" width="8.0" height="6.12" fill="#eeb41a"/>
<rect x="545.5" y="182.15" width="8.0" height="6.12" fill="#f0c020"/>
<rect x="545.5" y="187.97" width="8.0" height="6.12" fill="#f2ca28"/>
<rect x="545.5" y="193.79" width="8.0" height="6.12" fill="#f4d430"/>
<rect x="545.5" y="199.61" width="8.0" height="6.12" fill="#f4dc35"/>
<rect x="545.5" y="205.43" width="8.0" height="6.12" fill="#eade3c"/>
<rect x="545.5" y="211.25" width="8.0" height="6.12" fill="#ced644"/>
<rect x="545.5" y="217.07" width="8.0" height="6.12" fill="#a6ca4c"/>
<rect x="545.5" y="222.89" width="8.0" height="6.12" fill="#7cbe54"/>
<rect x="545.5" y="228.71" width="8.0" height="6.12" fill="#58b45c"/>
<rect x="545.5" y="234.53" width="8.0" height="6.12" fill="#38ac64"/>
<rect x="545.5" y="240.35" width="8.0" height="6.12" fill="#1fa76b"/>
<rect x="545.5" y="246.17" width="8.0" height="6.12" fill="#0b9e74"/>
<rect x="545.5" y="251.99" width="8.0" height="6.12" fill="#00927e"/>
<rect x="545.5" y="257.81" width="8.0" height="6.12" fill="#008a87"/>
<rect x="545.5" y="263.63" width="8.0" height="6.12" fill="#018292"/>
<rect x="545.5" y="269.45" width="8.0" height="6.12" fill="#037aa0"/>
<rect x="545.5" y="275.27" width="8.0" height="6.12" fill="#0574ac"/>
<rect x="545.5" y="281.09" width="8.0" height="6.12" fill="#0873b2"/>
<rect x="545.5" y="286.91" width="8.0" height="6.12" fill="#1278bc"/>
<rect x="545.5" y="292.73" width="8.0" height="6.12" fill="#1d80c6"/>
<rect x="545.5" y="298.55" width="8.0" height="6.12" fill="#2788ce"/>
<rect x="545.5" y="304.37" width="8.0" height="6.12" fill="#3391d7"/>
<rect x="545.5" y="310.19" width="8.0" height="6.12" fill="#3e9ae0"/>
<rect x="545.5" y="316.00" width="8.0" height="6.12" fill="#459fe3"/>
<rect x="545.5" y="321.82" width="8.0" height="6.12" fill="#4da4e6"/>
<rect x="545.5" y="327.64" width="8.0" height="6.12" fill="#57a6e4"/>
<rect x="545.5" y="333.46" width="8.0" height="6.12" fill="#61a8e1"/>
<rect x="545.5" y="339.28" width="8.0" height="6.12" fill="#71a8d6"/>
<rect x="545.5" y="345.10" width="8.0" height="6.12" fill="#81a7ca"/>
<rect x="545.5" y="350.92" width="8.0" height="6.12" fill="#8d9fb1"/>
<rect x="545.5" y="356.74" width="8.0" height="6.12" fill="#9ca1a5"/>
<rect x="545.5" y="362.56" width="8.0" height="6.12" fill="#adadad"/>
<rect x="545.5" y="368.38" width="8.0" height="6.12" fill="#bdbdbd"/>
<rect x="545.5" y="374.20" width="8.0" height="6.12" fill="#cacaca"/>
<rect x="545.5" y="380.02" width="8.0" height="6.12" fill="#d6d6d6"/>
<rect x="545.5" y="385.84" width="8.0" height="6.12" fill="#dcdcdc"/>
<rect x="545.5" y="391.66" width="8.0" height="6.12" fill="#e1e1e1"/>
<rect x="545.5" y="397.48" width="8.0" height="6.12" fill="#e6e6e6"/>
</g>
<rect x="545.5" y="48.3" width="8.0" height="355.0" fill="none" stroke="#777" stroke-width="0.6"/>
<line x1="553.5" y1="51.8" x2="553.5" y2="399.8" stroke="#000" stroke-width="1"/>
<line x1="553.5" y1="51.8" x2="561.0" y2="51.8" stroke="#000" stroke-width="1"/>
<text x="567.6" y="56.1" font-size="12">120</text>
<line x1="553.5" y1="80.8" x2="561.0" y2="80.8" stroke="#000" stroke-width="1"/>
<text x="567.6" y="85.1" font-size="12">110</text>
<line x1="553.5" y1="109.8" x2="561.0" y2="109.8" stroke="#000" stroke-width="1"/>
<text x="567.6" y="114.1" font-size="12">100</text>
<line x1="553.5" y1="138.8" x2="561.0" y2="138.8" stroke="#000" stroke-width="1"/>
<text x="567.6" y="143.1" font-size="12">90</text>
<line x1="553.5" y1="167.8" x2="561.0" y2="167.8" stroke="#000" stroke-width="1"/>
<text x="567.6" y="172.1" font-size="12">80</text>
<line x1="553.5" y1="196.8" x2="561.0" y2="196.8" stroke="#000" stroke-width="1"/>
<text x="567.6" y="201.1" font-size="12">70</text>
<line x1="553.5" y1="225.8" x2="561.0" y2="225.8" stroke="#000" stroke-width="1"/>
<text x="567.6" y="230.1" font-size="12">60</text>
<line x1="553.5" y1="254.8" x2="561.0" y2="254.8" stroke="#000" stroke-width="1"/>
<text x="567.6" y="259.1" font-size="12">50</text>
<line x1="553.5" y1="283.8" x2="561.0" y2="283.8" stroke="#000" stroke-width="1"/>
<text x="567.6" y="288.1" font-size="12">40</text>
<line x1="553.5" y1="312.8" x2="561.0" y2="312.8" stroke="#000" stroke-width="1"/>
<text x="567.6" y="317.1" font-size="12">30</text>
<line x1="553.5" y1="341.8" x2="561.0" y2="341.8" stroke="#000" stroke-width="1"/>
<text x="567.6" y="346.1" font-size="12">20</text>
<line x1="553.5" y1="370.8" x2="561.0" y2="370.8" stroke="#000" stroke-width="1"/>
<text x="567.6" y="375.1" font-size="12">10</text>
<line x1="553.5" y1="399.8" x2="561.0" y2="399.8" stroke="#000" stroke-width="1"/>
<text x="567.6" y="404.1" font-size="12">0</text>
<text x="549" y="46" font-size="12" text-anchor="middle">ppbV</text>
<g shape-rendering="crispEdges">
<rect x="1145.5" y="48.30" width="8.0" height="6.12" fill="#9d2020"/>
<rect x="1145.5" y="54.12" width="8.0" height="6.12" fill="#a72020"/>
<rect x="1145.5" y="59.94" width="8.0" height="6.12" fill="#b12020"/>
<rect x="1145.5" y="65.76" width="8.0" height="6.12" fill="#c51919"/>
<rect x="1145.5" y="71.58" width="8.0" height="6.12" fill="#d91212"/>
<rect x="1145.5" y="77.40" width="8.0" height="6.12" fill="#ed0909"/>
<rect x="1145.5" y="83.22" width="8.0" height="6.12" fill="#fe0204"/>
<rect x="1145.5" y="89.04" width="8.0" height="6.12" fill="#f4172e"/>
<rect x="1145.5" y="94.86" width="8.0" height="6.12" fill="#ec2f53"/>
<rect x="1145.5" y="100.68" width="8.0" height="6.12" fill="#e34973"/>
<rect x="1145.5" y="106.50" width="8.0" height="6.12" fill="#d66393"/>
<rect x="1145.5" y="112.32" width="8.0" height="6.12" fill="#ce6d8f"/>
<rect x="1145.5" y="118.14" width="8.0" height="6.12" fill="#cc666e"/>
<rect x="1145.5" y="123.96" width="8.0" height="6.12" fill="#cc604f"/>
<rect x="1145.5" y="129.78" width="8.0" height="6.12" fill="#cc603d"/>
<rect x="1145.5" y="135.60" width="8.0" height="6.12" fill="#cd622c"/>
<rect x="1145.5" y="141.41" width="8.0" height="6.12" fill="#d2681c"/>
<rect x="1145.5" y="147.23" width="8.0" height="6.12" fill="#d76f0b"/>
<rect x="1145.5" y="153.05" width="8.0" height="6.12" fill="#dc7908"/>
<rect x="1145.5" y="158.87" width="8.0" height="6.12" fill="#e08408"/>
<rect x="1145.5" y="164.69" width="8.0" height="6.12" fill="#e6940e"/>
<rect x="1145.5" y="170.51" width="8.0" height="6.12" fill="#eba213"/>
<rect x="1145.5" y="176.33" width="8.0" height="6.12" fill="#f0af18"/>
<rect x="1145.5" y="182.15" width="8.0" height="6.12" fill="#f2c024"/>
<rect x="1145.5" y="187.97" width="8.0" height="6.12" fill="#f4d130"/>
<rect x="1145.5" y="193.79" width="8.0" height="6.12" fill="#f4da35"/>
<rect x="1145.5" y="199.61" width="8.0" height="6.12" fill="#f3e140"/>
<rect x="1145.5" y="205.43" width="8.0" height="6.12" fill="#f1e65f"/>
<rect x="1145.5" y="211.25" width="8.0" height="6.12" fill="#f0ea8f"/>
<rect x="1145.5" y="217.07" width="8.0" height="6.12" fill="#eae9cf"/>
<rect x="1145.5" y="222.89" width="8.0" height="6.12" fill="#e6e6e6"/>
<rect x="1145.5" y="228.71" width="8.0" height="6.12" fill="#e4e6e4"/>
<rect x="1145.5" y="234.53" width="8.0" height="6.12" fill="#cce3cd"/>
<rect x="1145.5" y="240.35" width="8.0" height="6.12" fill="#b6dfbc"/>
<rect x="1145.5" y="246.17" width="8.0" height="6.12" fill="#a1daa9"/>
<rect x="1145.5" y="251.99" width="8.0" height="6.12" fill="#8bd396"/>
<rect x="1145.5" y="257.81" width="8.0" height="6.12" fill="#76cd82"/>
<rect x="1145.5" y="263.63" width="8.0" height="6.12" fill="#61c57a"/>
<rect x="1145.5" y="269.45" width="8.0" height="6.12" fill="#4cbc74"/>
<rect x="1145.5" y="275.27" width="8.0" height="6.12" fill="#36b16e"/>
<rect x="1145.5" y="281.09" width="8.0" height="6.12" fill="#21a168"/>
<rect x="1145.5" y="286.91" width="8.0" height="6.12" fill="#19996f"/>
<rect x="1145.5" y="292.73" width="8.0" height="6.12" fill="#119177"/>
<rect x="1145.5" y="298.55" width="8.0" height="6.12" fill="#108982"/>
<rect x="1145.5" y="304.37" width="8.0" height="6.12" fill="#108090"/>
<rect x="1145.5" y="310.19" width="8.0" height="6.12" fill="#1073a1"/>
<rect x="1145.5" y="316.00" width="8.0" height="6.12" fill="#1066b3"/>
<rect x="1145.5" y="321.82" width="8.0" height="6.12" fill="#1054c9"/>
<rect x="1145.5" y="327.64" width="8.0" height="6.12" fill="#1045dc"/>
<rect x="1145.5" y="333.46" width="8.0" height="6.12" fill="#103be9"/>
<rect x="1145.5" y="339.28" width="8.0" height="6.12" fill="#1031f6"/>
<rect x="1145.5" y="345.10" width="8.0" height="6.12" fill="#2e30f4"/>
<rect x="1145.5" y="350.92" width="8.0" height="6.12" fill="#5130f0"/>
<rect x="1145.5" y="356.74" width="8.0" height="6.12" fill="#6b27e7"/>
<rect x="1145.5" y="362.56" width="8.0" height="6.12" fill="#8120df"/>
<rect x="1145.5" y="368.38" width="8.0" height="6.12" fill="#8820d8"/>
<rect x="1145.5" y="374.20" width="8.0" height="6.12" fill="#8e20d2"/>
<rect x="1145.5" y="380.02" width="8.0" height="6.12" fill="#8620bf"/>
<rect x="1145.5" y="385.84" width="8.0" height="6.12" fill="#7920a9"/>
<rect x="1145.5" y="391.66" width="8.0" height="6.12" fill="#6f2099"/>
<rect x="1145.5" y="397.48" width="8.0" height="6.12" fill="#652088"/>
</g>
<rect x="1145.5" y="48.3" width="8.0" height="355.0" fill="none" stroke="#777" stroke-width="0.6"/>
<line x1="1153.5" y1="51.8" x2="1153.5" y2="399.8" stroke="#000" stroke-width="1"/>
<line x1="1153.5" y1="51.8" x2="1161.0" y2="51.8" stroke="#000" stroke-width="1"/>
<text x="1167.6" y="56.1" font-size="12">70</text>
<line x1="1153.5" y1="109.8" x2="1161.0" y2="109.8" stroke="#000" stroke-width="1"/>
<text x="1167.6" y="114.1" font-size="12">20</text>
<line x1="1153.5" y1="167.8" x2="1161.0" y2="167.8" stroke="#000" stroke-width="1"/>
<text x="1167.6" y="172.1" font-size="12">10</text>
<line x1="1153.5" y1="225.8" x2="1161.0" y2="225.8" stroke="#000" stroke-width="1"/>
<text x="1167.6" y="230.1" font-size="12">0</text>
<line x1="1153.5" y1="283.8" x2="1161.0" y2="283.8" stroke="#000" stroke-width="1"/>
<text x="1167.6" y="288.1" font-size="12">-10</text>
<line x1="1153.5" y1="341.8" x2="1161.0" y2="341.8" stroke="#000" stroke-width="1"/>
<text x="1167.6" y="346.1" font-size="12">-20</text>
<line x1="1153.5" y1="399.8" x2="1161.0" y2="399.8" stroke="#000" stroke-width="1"/>
<text x="1167.6" y="404.1" font-size="12">-140</text>
<text x="1149" y="46" font-size="12" text-anchor="middle">ppbV</text>
</g></svg></body></html>
